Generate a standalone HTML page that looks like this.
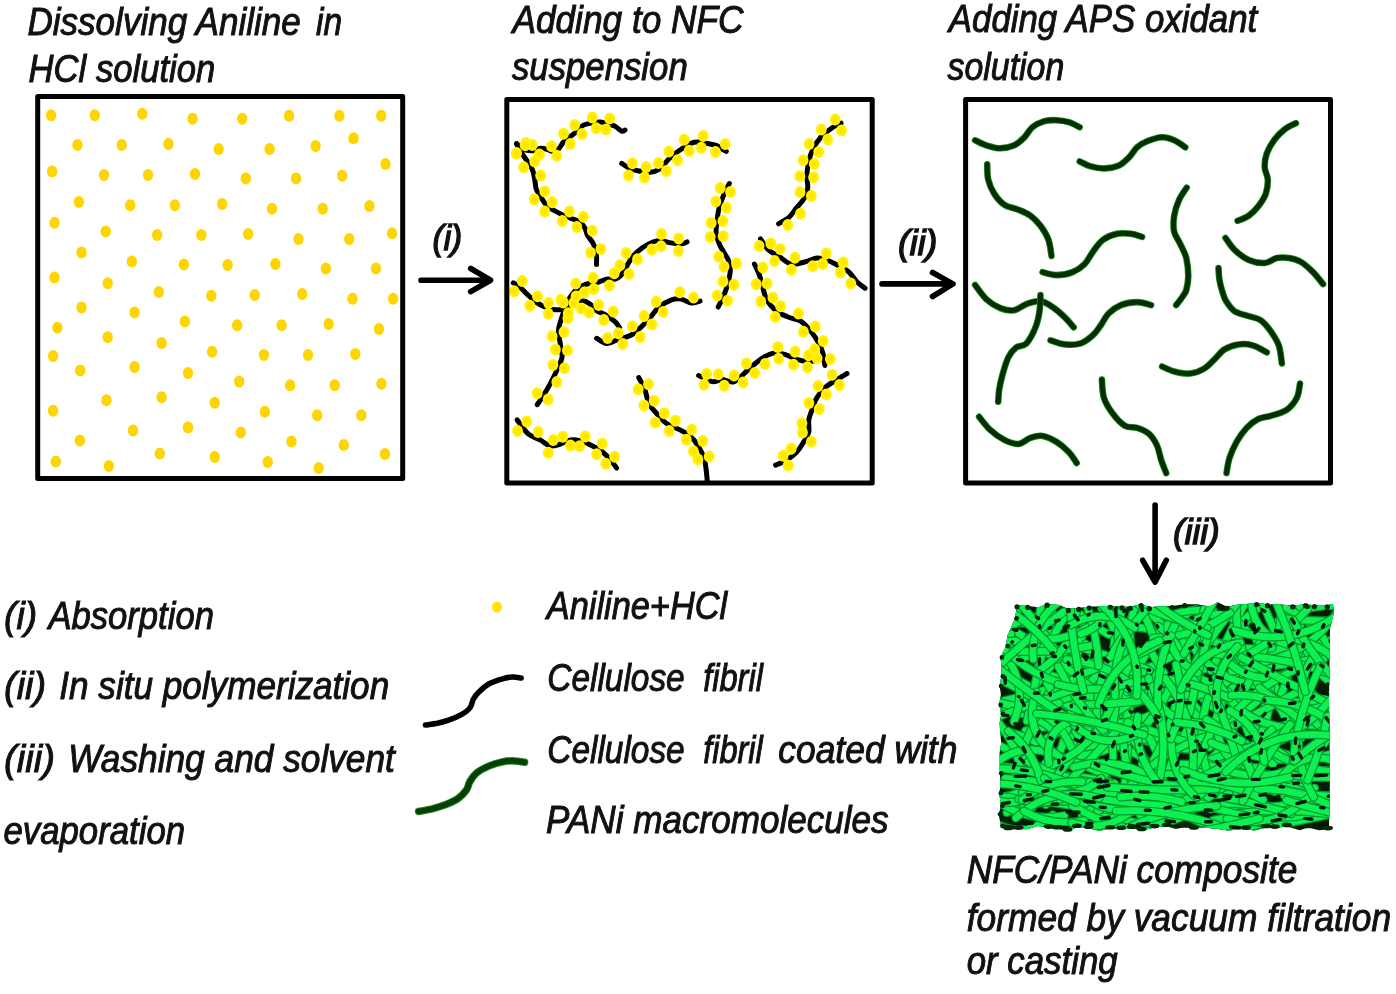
<!DOCTYPE html>
<html><head><meta charset="utf-8"><title>NFC/PANi composite preparation</title><style>
html,body{margin:0;padding:0;background:#fff;overflow:hidden;}
svg{display:block;filter:blur(0.5px);}
text{font-family:"Liberation Sans",sans-serif;font-style:italic;fill:#111;stroke:#111;}
.t{font-size:38.5px;stroke-width:1.0px;}
.lb{font-size:34.5px;stroke-width:1.4px;}
</style></head><body>
<svg width="1396" height="994" viewBox="0 0 1396 994">
<defs>
<radialGradient id="yg" cx="0.5" cy="0.5" r="0.5"><stop offset="0" stop-color="#FFDC00"/><stop offset="1" stop-color="#FFF800"/></radialGradient>
<clipPath id="c1"><rect x="40" y="99" width="361" height="378"/></clipPath>
<clipPath id="c2"><rect x="509" y="102" width="361" height="379"/></clipPath>
<clipPath id="c3"><rect x="968" y="102" width="361" height="379"/></clipPath>
</defs>

<g clip-path="url(#c1)" fill="#FFD500">
<ellipse cx="51.1" cy="115.2" rx="5.2" ry="6.0"/>
<ellipse cx="94.8" cy="115.2" rx="5.2" ry="6.0"/>
<ellipse cx="142.3" cy="113.7" rx="5.2" ry="6.0"/>
<ellipse cx="192.6" cy="118.8" rx="5.2" ry="6.0"/>
<ellipse cx="77.5" cy="144.9" rx="5.2" ry="6.0"/>
<ellipse cx="121.7" cy="144.9" rx="5.2" ry="6.0"/>
<ellipse cx="168.4" cy="143.9" rx="5.2" ry="6.0"/>
<ellipse cx="218.7" cy="149" rx="5.2" ry="6.0"/>
<ellipse cx="52.1" cy="171.5" rx="5.2" ry="6.0"/>
<ellipse cx="104" cy="175.1" rx="5.2" ry="6.0"/>
<ellipse cx="148.1" cy="175.1" rx="5.2" ry="6.0"/>
<ellipse cx="195" cy="174.1" rx="5.2" ry="6.0"/>
<ellipse cx="78.9" cy="201.9" rx="5.2" ry="6.0"/>
<ellipse cx="130.2" cy="205.3" rx="5.2" ry="6.0"/>
<ellipse cx="174.9" cy="205.3" rx="5.2" ry="6.0"/>
<ellipse cx="222.2" cy="203.9" rx="5.2" ry="6.0"/>
<ellipse cx="54.5" cy="222.8" rx="5.2" ry="6.0"/>
<ellipse cx="105.7" cy="231.4" rx="5.2" ry="6.0"/>
<ellipse cx="157.2" cy="234.9" rx="5.2" ry="6.0"/>
<ellipse cx="201.4" cy="234.9" rx="5.2" ry="6.0"/>
<ellipse cx="81.5" cy="252.6" rx="5.2" ry="6.0"/>
<ellipse cx="131.8" cy="261.6" rx="5.2" ry="6.0"/>
<ellipse cx="183.9" cy="264.6" rx="5.2" ry="6.0"/>
<ellipse cx="227.6" cy="265" rx="5.2" ry="6.0"/>
<ellipse cx="54.5" cy="277.5" rx="5.2" ry="6.0"/>
<ellipse cx="107.7" cy="283.2" rx="5.2" ry="6.0"/>
<ellipse cx="242.2" cy="118.8" rx="5.2" ry="6.0"/>
<ellipse cx="289.1" cy="115.8" rx="5.2" ry="6.0"/>
<ellipse cx="339.4" cy="115.8" rx="5.2" ry="6.0"/>
<ellipse cx="381.2" cy="115.8" rx="5.2" ry="6.0"/>
<ellipse cx="269.6" cy="149" rx="5.2" ry="6.0"/>
<ellipse cx="315.6" cy="145.9" rx="5.2" ry="6.0"/>
<ellipse cx="353.5" cy="138.3" rx="5.2" ry="6.0"/>
<ellipse cx="385.5" cy="164" rx="5.2" ry="6.0"/>
<ellipse cx="245.8" cy="178.5" rx="5.2" ry="6.0"/>
<ellipse cx="296.1" cy="178.5" rx="5.2" ry="6.0"/>
<ellipse cx="342.2" cy="175.7" rx="5.2" ry="6.0"/>
<ellipse cx="272" cy="208.7" rx="5.2" ry="6.0"/>
<ellipse cx="322.7" cy="208.7" rx="5.2" ry="6.0"/>
<ellipse cx="369.4" cy="205.9" rx="5.2" ry="6.0"/>
<ellipse cx="248.2" cy="233.9" rx="5.2" ry="6.0"/>
<ellipse cx="298.5" cy="238.9" rx="5.2" ry="6.0"/>
<ellipse cx="349.2" cy="238.9" rx="5.2" ry="6.0"/>
<ellipse cx="392.1" cy="233.3" rx="5.2" ry="6.0"/>
<ellipse cx="275.4" cy="264" rx="5.2" ry="6.0"/>
<ellipse cx="325.9" cy="268.5" rx="5.2" ry="6.0"/>
<ellipse cx="376" cy="268.5" rx="5.2" ry="6.0"/>
<ellipse cx="158.8" cy="292.1" rx="5.2" ry="6.0"/>
<ellipse cx="211.3" cy="295.7" rx="5.2" ry="6.0"/>
<ellipse cx="81.5" cy="307.6" rx="5.2" ry="6.0"/>
<ellipse cx="134.6" cy="312.6" rx="5.2" ry="6.0"/>
<ellipse cx="184.9" cy="321.6" rx="5.2" ry="6.0"/>
<ellipse cx="57.4" cy="327.7" rx="5.2" ry="6.0"/>
<ellipse cx="107.7" cy="337.3" rx="5.2" ry="6.0"/>
<ellipse cx="161.6" cy="343" rx="5.2" ry="6.0"/>
<ellipse cx="212.1" cy="351.8" rx="5.2" ry="6.0"/>
<ellipse cx="53.1" cy="356.1" rx="5.2" ry="6.0"/>
<ellipse cx="80.3" cy="370.5" rx="5.2" ry="6.0"/>
<ellipse cx="134.6" cy="367.1" rx="5.2" ry="6.0"/>
<ellipse cx="188" cy="373" rx="5.2" ry="6.0"/>
<ellipse cx="106.5" cy="400.3" rx="5.2" ry="6.0"/>
<ellipse cx="161.6" cy="397.3" rx="5.2" ry="6.0"/>
<ellipse cx="214.7" cy="402.7" rx="5.2" ry="6.0"/>
<ellipse cx="53.1" cy="410.8" rx="5.2" ry="6.0"/>
<ellipse cx="133" cy="430.5" rx="5.2" ry="6.0"/>
<ellipse cx="188" cy="427.5" rx="5.2" ry="6.0"/>
<ellipse cx="79.9" cy="440.6" rx="5.2" ry="6.0"/>
<ellipse cx="55.8" cy="461.5" rx="5.2" ry="6.0"/>
<ellipse cx="108.9" cy="466.1" rx="5.2" ry="6.0"/>
<ellipse cx="159.8" cy="453.4" rx="5.2" ry="6.0"/>
<ellipse cx="214.7" cy="457.1" rx="5.2" ry="6.0"/>
<ellipse cx="254.7" cy="295.1" rx="5.2" ry="6.0"/>
<ellipse cx="302.2" cy="294.1" rx="5.2" ry="6.0"/>
<ellipse cx="352.5" cy="298.7" rx="5.2" ry="6.0"/>
<ellipse cx="393.1" cy="298.7" rx="5.2" ry="6.0"/>
<ellipse cx="237.2" cy="325.3" rx="5.2" ry="6.0"/>
<ellipse cx="281.6" cy="325.3" rx="5.2" ry="6.0"/>
<ellipse cx="328.7" cy="323.9" rx="5.2" ry="6.0"/>
<ellipse cx="379" cy="328.9" rx="5.2" ry="6.0"/>
<ellipse cx="263.9" cy="355" rx="5.2" ry="6.0"/>
<ellipse cx="308" cy="355" rx="5.2" ry="6.0"/>
<ellipse cx="355.3" cy="354" rx="5.2" ry="6.0"/>
<ellipse cx="239.2" cy="381.6" rx="5.2" ry="6.0"/>
<ellipse cx="290.1" cy="385.2" rx="5.2" ry="6.0"/>
<ellipse cx="334.7" cy="385.2" rx="5.2" ry="6.0"/>
<ellipse cx="381.4" cy="383.8" rx="5.2" ry="6.0"/>
<ellipse cx="264.9" cy="411.8" rx="5.2" ry="6.0"/>
<ellipse cx="317.2" cy="415.2" rx="5.2" ry="6.0"/>
<ellipse cx="361.3" cy="415.2" rx="5.2" ry="6.0"/>
<ellipse cx="240.8" cy="432.5" rx="5.2" ry="6.0"/>
<ellipse cx="291.5" cy="441.6" rx="5.2" ry="6.0"/>
<ellipse cx="343.8" cy="445" rx="5.2" ry="6.0"/>
<ellipse cx="267.7" cy="462.1" rx="5.2" ry="6.0"/>
<ellipse cx="318.7" cy="468.1" rx="5.2" ry="6.0"/>
<ellipse cx="385" cy="454" rx="5.2" ry="6.0"/>
</g>
<g clip-path="url(#c2)">
<g fill="none" stroke="#000" stroke-width="5" stroke-linecap="round" stroke-linejoin="round">
<path d="M516.6 143.7C517.7 144.6 520.3 148.1 523.1 149.3C525.9 150.5 530.4 151.0 533.2 150.8C536.1 150.6 537.9 148.4 540.2 148.2C542.5 147.9 545.2 148.8 547.2 149.3C549.2 149.8 550.4 151.3 552.3 151.3C554.1 151.3 556.5 150.8 558.3 149.3C560.1 147.8 561.4 144.2 563.3 142.2C565.1 140.2 567.0 139.0 569.4 137.2C571.8 135.3 575.1 133.1 577.4 131.1C579.7 129.1 581.0 126.4 583.4 125.1C585.8 123.8 588.6 123.6 591.5 123.1C594.4 122.6 597.8 121.9 600.5 122.1C603.2 122.3 605.2 123.4 607.6 124.1C610.0 124.8 612.2 124.9 614.6 126.1C617.0 127.3 620.0 130.4 621.7 131.1C623.4 131.8 624.5 130.2 625.0 130.0"/>
<path d="M516.6 143.7C517.2 144.8 518.6 147.6 520.0 150.0C521.4 152.4 523.3 155.5 525.0 158.0C526.7 160.5 528.6 162.7 530.0 165.0C531.4 167.3 532.4 169.3 533.2 172.0C534.0 174.7 534.5 178.2 535.0 181.0C535.5 183.8 535.3 186.5 536.2 189.0C537.1 191.5 538.4 193.2 540.2 196.1C542.0 198.9 544.7 203.6 547.2 206.1C549.7 208.6 552.6 209.6 555.3 211.1C558.0 212.6 560.8 214.0 563.3 215.2C565.8 216.4 567.9 217.2 570.4 218.2C572.9 219.2 576.0 219.7 578.4 221.2C580.8 222.7 583.0 224.8 584.5 227.2C586.0 229.5 586.2 232.8 587.5 235.3C588.8 237.8 591.2 240.0 592.5 242.3C593.8 244.7 594.8 247.1 595.5 249.4C596.2 251.8 596.3 253.9 596.5 256.4C596.7 258.9 596.5 263.1 596.5 264.5"/>
<path d="M621.7 163.4C622.9 164.2 626.5 166.8 629.0 168.0C631.5 169.2 633.5 169.8 636.8 170.5C640.1 171.2 645.2 172.7 648.9 172.5C652.6 172.3 656.0 171.3 659.0 169.4C662.0 167.5 664.7 163.4 667.0 161.0C669.3 158.6 670.6 156.9 673.0 155.0C675.4 153.1 678.6 151.0 681.1 149.3C683.6 147.6 685.8 146.2 688.0 145.0C690.2 143.8 692.1 142.8 694.1 142.3C696.1 141.8 698.0 141.8 700.0 142.0C702.0 142.2 703.5 142.8 706.2 143.3C708.9 143.9 713.6 144.4 716.2 145.3C718.8 146.2 720.3 148.0 722.0 149.0C723.7 150.0 725.6 150.9 726.3 151.3"/>
<path d="M687.1 241.9C686.1 242.2 683.7 243.8 681.0 244.0C678.3 244.2 674.3 243.5 671.0 242.9C667.7 242.3 664.0 240.7 661.0 240.5C658.0 240.3 655.9 240.8 652.9 242.0C649.9 243.2 646.0 245.1 642.7 247.5C639.4 249.9 635.5 253.1 632.9 256.2C630.2 259.3 628.8 262.7 626.8 265.9C624.8 269.1 622.8 273.4 620.8 275.6C618.8 277.8 617.1 278.6 614.7 279.2C612.3 279.8 609.3 278.6 606.3 279.2C603.3 279.8 599.8 282.0 596.6 282.8C593.4 283.6 590.2 283.0 587.0 284.0C583.8 285.0 580.1 286.6 577.3 288.8C574.5 291.0 572.0 294.3 570.0 297.3C568.0 300.3 567.0 303.2 565.5 307.0C564.0 310.8 562.2 315.9 561.0 320.0C559.8 324.1 558.5 327.1 558.4 331.3C558.3 335.5 559.9 340.6 560.5 345.0C561.1 349.4 562.7 353.0 562.0 357.4C561.3 361.8 558.2 367.1 556.3 371.5C554.3 375.9 552.5 379.6 550.3 383.6C548.1 387.6 545.5 392.2 543.3 395.7C541.1 399.2 538.2 403.2 537.2 404.7"/>
<path d="M778.6 223.8C780.3 222.8 785.7 220.4 788.7 217.7C791.7 215.0 794.0 211.0 796.7 207.7C799.4 204.3 802.9 200.9 804.7 197.6C806.6 194.2 807.4 191.3 807.8 187.6C808.1 183.9 806.6 179.9 806.8 175.5C807.0 171.1 807.8 165.8 808.8 161.4C809.8 157.0 810.8 153.3 812.8 149.3C814.8 145.3 817.4 141.0 820.8 137.3C824.1 133.6 829.5 129.6 832.9 127.2C836.3 124.8 839.6 123.9 841.0 123.2"/>
<path d="M729.3 183.5C728.5 185.2 726.0 189.6 724.3 193.6C722.6 197.6 720.4 203.3 719.2 207.7C718.0 212.0 717.7 215.3 717.2 219.7C716.7 224.0 715.7 229.4 716.2 233.8C716.7 238.2 718.2 241.5 720.2 245.9C722.2 250.3 726.6 256.0 728.3 260.0C730.0 264.0 730.3 266.3 730.3 270.0C730.3 273.7 729.3 277.9 728.3 282.1C727.2 286.3 725.7 290.8 724.0 295.0C722.3 299.2 719.2 305.1 718.2 307.1"/>
<path d="M760.5 238.9C761.8 240.7 765.5 247.1 768.5 249.9C771.5 252.8 774.9 253.7 778.6 256.0C782.3 258.4 786.4 263.0 790.7 264.0C795.1 265.0 800.4 263.0 804.7 262.0C809.1 261.0 813.1 258.3 816.8 258.0C820.5 257.7 823.2 258.7 826.9 260.0C830.6 261.3 835.3 264.0 839.0 266.0C842.7 268.0 846.0 269.4 849.0 272.1C852.0 274.8 854.4 279.4 857.1 282.1C859.8 284.8 863.8 287.2 865.1 288.2"/>
<path d="M754.4 264.0C755.2 265.7 757.7 270.7 759.0 274.0C760.3 277.3 760.8 279.8 762.0 284.0C763.2 288.2 764.1 294.6 766.5 299.1C768.9 303.6 772.9 308.2 776.6 311.2C780.3 314.2 784.7 315.5 788.7 317.2C792.7 318.9 797.0 318.8 800.7 321.2C804.4 323.6 807.8 327.6 810.8 331.3C813.8 335.0 816.8 339.7 818.8 343.4C820.8 347.1 821.9 349.7 822.9 353.4C823.9 357.1 824.6 363.5 824.9 365.5"/>
<path d="M513.3 282.8C514.5 283.6 518.1 285.6 520.5 287.6C522.9 289.6 525.2 292.5 527.8 294.9C530.4 297.3 533.4 300.1 536.2 302.1C539.0 304.1 541.9 305.8 544.7 307.0C547.5 308.2 550.1 309.0 553.1 309.4C556.1 309.8 559.6 310.2 562.8 309.4C566.0 308.6 569.1 305.9 572.5 304.5C575.9 303.1 580.3 300.9 583.3 300.9C586.3 300.9 588.4 302.9 590.6 304.5C592.8 306.1 594.0 308.8 596.6 310.6C599.2 312.4 603.3 313.6 606.3 315.4C609.3 317.2 612.5 319.4 614.7 321.4C616.9 323.4 618.8 326.5 619.6 327.5"/>
<path d="M596.6 338.3C598.3 339.1 602.9 343.2 606.6 343.4C610.3 343.6 614.7 340.6 618.7 339.3C622.7 338.0 627.1 337.3 630.8 335.3C634.5 333.3 637.8 330.0 640.8 327.3C643.8 324.6 645.9 322.6 648.9 319.2C651.9 315.8 655.3 310.3 659.0 307.1C662.7 303.9 667.3 301.4 671.0 300.1C674.7 298.8 677.8 298.6 681.1 299.1C684.5 299.6 687.9 302.8 691.1 303.1C694.3 303.4 698.6 301.4 700.1 301.1"/>
<path d="M517.1 419.8C519.0 422.1 524.4 430.5 528.2 433.9C532.1 437.2 536.5 437.9 540.2 439.9C543.9 441.9 546.9 445.3 550.3 446.0C553.7 446.7 557.0 445.0 560.4 444.0C563.8 443.0 567.0 440.4 570.4 439.9C573.8 439.4 576.8 439.9 580.5 440.9C584.2 441.9 588.9 444.1 592.6 446.0C596.3 447.9 599.6 449.6 602.6 452.0C605.6 454.4 608.4 457.4 610.7 460.1C613.1 462.8 615.7 466.8 616.7 468.1"/>
<path d="M638.8 377.6C639.8 379.6 643.2 385.2 644.9 389.6C646.6 394.0 646.9 399.7 648.9 403.7C650.9 407.7 653.9 410.4 656.9 413.8C659.9 417.2 663.1 421.1 667.0 423.8C670.9 426.5 676.1 427.9 680.0 429.9C683.9 431.9 687.1 433.2 690.1 435.9C693.1 438.6 695.8 442.3 698.1 446.0C700.4 449.7 702.8 454.0 704.1 458.0C705.5 462.0 705.7 466.4 706.2 470.1C706.7 473.8 707.0 478.5 707.2 480.2"/>
<path d="M698.6 375.5C700.9 376.5 708.2 380.9 712.2 381.6C716.2 382.3 718.6 379.6 722.3 379.6C726.0 379.6 729.9 383.3 734.3 381.6C738.6 379.9 744.0 373.2 748.4 369.5C752.8 365.8 756.5 362.1 760.5 359.4C764.5 356.7 768.6 354.2 772.6 353.4C776.6 352.6 780.6 353.4 784.6 354.4C788.6 355.4 792.7 358.2 796.7 359.4C800.7 360.6 804.8 361.5 808.8 361.5C812.8 361.5 818.8 359.8 820.8 359.4"/>
<path d="M775.6 465.1C777.4 464.3 783.1 462.3 786.6 460.1C790.1 457.9 793.9 455.0 796.7 452.0C799.6 449.0 801.7 445.2 803.7 441.9C805.7 438.5 807.9 435.6 808.8 431.9C809.6 428.2 808.1 423.8 808.8 419.8C809.5 415.8 811.5 411.4 812.8 407.7C814.1 404.0 814.8 401.0 816.8 397.7C818.8 394.4 821.5 390.6 824.9 387.6C828.2 384.6 833.2 382.0 836.9 379.6C840.6 377.2 845.3 374.5 847.0 373.5"/>
</g><g fill="url(#yg)">
<ellipse cx="516.5" cy="153.1" rx="5.4" ry="6.0"/>
<ellipse cx="525.9" cy="143.1" rx="5.4" ry="6.0"/>
<ellipse cx="539.4" cy="154.4" rx="5.4" ry="6.0"/>
<ellipse cx="532.3" cy="145.0" rx="5.4" ry="6.0"/>
<ellipse cx="556.9" cy="155.7" rx="5.4" ry="6.0"/>
<ellipse cx="551.5" cy="146.3" rx="5.4" ry="6.0"/>
<ellipse cx="570.3" cy="144.1" rx="5.4" ry="6.0"/>
<ellipse cx="563.5" cy="133.7" rx="5.4" ry="6.0"/>
<ellipse cx="582.0" cy="134.0" rx="5.4" ry="6.0"/>
<ellipse cx="574.6" cy="125.1" rx="5.4" ry="6.0"/>
<ellipse cx="596.2" cy="128.3" rx="5.4" ry="6.0"/>
<ellipse cx="592.3" cy="117.4" rx="5.4" ry="6.0"/>
<ellipse cx="606.0" cy="129.5" rx="5.4" ry="6.0"/>
<ellipse cx="609.7" cy="118.6" rx="5.4" ry="6.0"/>
<ellipse cx="525.2" cy="145.2" rx="5.4" ry="6.0"/>
<ellipse cx="516.2" cy="153.8" rx="5.4" ry="6.0"/>
<ellipse cx="534.7" cy="161.6" rx="5.4" ry="6.0"/>
<ellipse cx="523.7" cy="167.3" rx="5.4" ry="6.0"/>
<ellipse cx="540.6" cy="175.5" rx="5.4" ry="6.0"/>
<ellipse cx="544.8" cy="191.6" rx="5.4" ry="6.0"/>
<ellipse cx="534.2" cy="199.3" rx="5.4" ry="6.0"/>
<ellipse cx="552.2" cy="202.2" rx="5.4" ry="6.0"/>
<ellipse cx="544.7" cy="211.4" rx="5.4" ry="6.0"/>
<ellipse cx="569.4" cy="211.4" rx="5.4" ry="6.0"/>
<ellipse cx="562.3" cy="220.9" rx="5.4" ry="6.0"/>
<ellipse cx="583.3" cy="216.8" rx="5.4" ry="6.0"/>
<ellipse cx="576.8" cy="227.1" rx="5.4" ry="6.0"/>
<ellipse cx="592.3" cy="230.7" rx="5.4" ry="6.0"/>
<ellipse cx="600.9" cy="249.1" rx="5.4" ry="6.0"/>
<ellipse cx="590.5" cy="252.7" rx="5.4" ry="6.0"/>
<ellipse cx="628.6" cy="175.4" rx="5.4" ry="6.0"/>
<ellipse cx="632.4" cy="163.2" rx="5.4" ry="6.0"/>
<ellipse cx="644.6" cy="177.6" rx="5.4" ry="6.0"/>
<ellipse cx="646.1" cy="167.1" rx="5.4" ry="6.0"/>
<ellipse cx="666.3" cy="171.0" rx="5.4" ry="6.0"/>
<ellipse cx="658.4" cy="163.1" rx="5.4" ry="6.0"/>
<ellipse cx="677.5" cy="160.2" rx="5.4" ry="6.0"/>
<ellipse cx="668.9" cy="151.6" rx="5.4" ry="6.0"/>
<ellipse cx="689.2" cy="150.8" rx="5.4" ry="6.0"/>
<ellipse cx="684.2" cy="139.7" rx="5.4" ry="6.0"/>
<ellipse cx="701.3" cy="147.7" rx="5.4" ry="6.0"/>
<ellipse cx="703.2" cy="136.0" rx="5.4" ry="6.0"/>
<ellipse cx="715.5" cy="152.0" rx="5.4" ry="6.0"/>
<ellipse cx="725.2" cy="143.9" rx="5.4" ry="6.0"/>
<ellipse cx="678.7" cy="238.4" rx="5.4" ry="6.0"/>
<ellipse cx="678.4" cy="251.0" rx="5.4" ry="6.0"/>
<ellipse cx="661.5" cy="234.0" rx="5.4" ry="6.0"/>
<ellipse cx="661.1" cy="246.2" rx="5.4" ry="6.0"/>
<ellipse cx="651.8" cy="249.5" rx="5.4" ry="6.0"/>
<ellipse cx="626.3" cy="253.1" rx="5.4" ry="6.0"/>
<ellipse cx="637.5" cy="259.2" rx="5.4" ry="6.0"/>
<ellipse cx="619.9" cy="265.3" rx="5.4" ry="6.0"/>
<ellipse cx="629.0" cy="274.0" rx="5.4" ry="6.0"/>
<ellipse cx="614.2" cy="273.2" rx="5.4" ry="6.0"/>
<ellipse cx="609.4" cy="285.6" rx="5.4" ry="6.0"/>
<ellipse cx="593.0" cy="277.7" rx="5.4" ry="6.0"/>
<ellipse cx="593.8" cy="289.1" rx="5.4" ry="6.0"/>
<ellipse cx="575.7" cy="283.4" rx="5.4" ry="6.0"/>
<ellipse cx="584.5" cy="292.2" rx="5.4" ry="6.0"/>
<ellipse cx="560.9" cy="299.7" rx="5.4" ry="6.0"/>
<ellipse cx="573.8" cy="303.0" rx="5.4" ry="6.0"/>
<ellipse cx="567.9" cy="318.2" rx="5.4" ry="6.0"/>
<ellipse cx="552.1" cy="336.3" rx="5.4" ry="6.0"/>
<ellipse cx="564.0" cy="332.0" rx="5.4" ry="6.0"/>
<ellipse cx="555.4" cy="349.6" rx="5.4" ry="6.0"/>
<ellipse cx="567.4" cy="350.3" rx="5.4" ry="6.0"/>
<ellipse cx="552.9" cy="365.1" rx="5.4" ry="6.0"/>
<ellipse cx="564.5" cy="368.3" rx="5.4" ry="6.0"/>
<ellipse cx="556.8" cy="382.0" rx="5.4" ry="6.0"/>
<ellipse cx="537.2" cy="393.3" rx="5.4" ry="6.0"/>
<ellipse cx="548.1" cy="399.4" rx="5.4" ry="6.0"/>
<ellipse cx="787.7" cy="225.0" rx="5.4" ry="6.0"/>
<ellipse cx="800.5" cy="213.8" rx="5.4" ry="6.0"/>
<ellipse cx="811.3" cy="196.1" rx="5.4" ry="6.0"/>
<ellipse cx="800.0" cy="192.2" rx="5.4" ry="6.0"/>
<ellipse cx="813.6" cy="177.3" rx="5.4" ry="6.0"/>
<ellipse cx="799.9" cy="176.3" rx="5.4" ry="6.0"/>
<ellipse cx="814.2" cy="163.9" rx="5.4" ry="6.0"/>
<ellipse cx="803.1" cy="160.2" rx="5.4" ry="6.0"/>
<ellipse cx="818.7" cy="152.1" rx="5.4" ry="6.0"/>
<ellipse cx="809.1" cy="144.0" rx="5.4" ry="6.0"/>
<ellipse cx="827.7" cy="139.5" rx="5.4" ry="6.0"/>
<ellipse cx="821.3" cy="129.4" rx="5.4" ry="6.0"/>
<ellipse cx="841.5" cy="130.5" rx="5.4" ry="6.0"/>
<ellipse cx="835.2" cy="119.4" rx="5.4" ry="6.0"/>
<ellipse cx="730.5" cy="192.1" rx="5.4" ry="6.0"/>
<ellipse cx="720.2" cy="188.1" rx="5.4" ry="6.0"/>
<ellipse cx="726.4" cy="207.8" rx="5.4" ry="6.0"/>
<ellipse cx="715.8" cy="201.6" rx="5.4" ry="6.0"/>
<ellipse cx="722.9" cy="221.0" rx="5.4" ry="6.0"/>
<ellipse cx="711.2" cy="222.9" rx="5.4" ry="6.0"/>
<ellipse cx="723.2" cy="236.2" rx="5.4" ry="6.0"/>
<ellipse cx="710.2" cy="237.1" rx="5.4" ry="6.0"/>
<ellipse cx="718.8" cy="256.7" rx="5.4" ry="6.0"/>
<ellipse cx="736.5" cy="263.5" rx="5.4" ry="6.0"/>
<ellipse cx="724.0" cy="266.4" rx="5.4" ry="6.0"/>
<ellipse cx="733.9" cy="284.8" rx="5.4" ry="6.0"/>
<ellipse cx="723.0" cy="281.5" rx="5.4" ry="6.0"/>
<ellipse cx="727.6" cy="300.7" rx="5.4" ry="6.0"/>
<ellipse cx="717.2" cy="295.6" rx="5.4" ry="6.0"/>
<ellipse cx="759.1" cy="246.0" rx="5.4" ry="6.0"/>
<ellipse cx="770.9" cy="243.6" rx="5.4" ry="6.0"/>
<ellipse cx="774.5" cy="260.9" rx="5.4" ry="6.0"/>
<ellipse cx="780.2" cy="249.1" rx="5.4" ry="6.0"/>
<ellipse cx="791.4" cy="269.7" rx="5.4" ry="6.0"/>
<ellipse cx="794.9" cy="257.8" rx="5.4" ry="6.0"/>
<ellipse cx="812.7" cy="266.3" rx="5.4" ry="6.0"/>
<ellipse cx="822.8" cy="264.0" rx="5.4" ry="6.0"/>
<ellipse cx="826.2" cy="253.4" rx="5.4" ry="6.0"/>
<ellipse cx="840.3" cy="272.4" rx="5.4" ry="6.0"/>
<ellipse cx="843.1" cy="262.5" rx="5.4" ry="6.0"/>
<ellipse cx="850.8" cy="283.5" rx="5.4" ry="6.0"/>
<ellipse cx="762.8" cy="267.6" rx="5.4" ry="6.0"/>
<ellipse cx="756.3" cy="284.2" rx="5.4" ry="6.0"/>
<ellipse cx="767.1" cy="283.4" rx="5.4" ry="6.0"/>
<ellipse cx="760.7" cy="301.4" rx="5.4" ry="6.0"/>
<ellipse cx="772.9" cy="297.6" rx="5.4" ry="6.0"/>
<ellipse cx="775.2" cy="317.1" rx="5.4" ry="6.0"/>
<ellipse cx="780.6" cy="306.3" rx="5.4" ry="6.0"/>
<ellipse cx="798.4" cy="313.4" rx="5.4" ry="6.0"/>
<ellipse cx="803.4" cy="331.8" rx="5.4" ry="6.0"/>
<ellipse cx="815.3" cy="326.4" rx="5.4" ry="6.0"/>
<ellipse cx="814.7" cy="349.2" rx="5.4" ry="6.0"/>
<ellipse cx="823.2" cy="340.9" rx="5.4" ry="6.0"/>
<ellipse cx="817.1" cy="358.2" rx="5.4" ry="6.0"/>
<ellipse cx="830.3" cy="358.9" rx="5.4" ry="6.0"/>
<ellipse cx="514.0" cy="291.3" rx="5.4" ry="6.0"/>
<ellipse cx="522.1" cy="281.1" rx="5.4" ry="6.0"/>
<ellipse cx="529.8" cy="305.7" rx="5.4" ry="6.0"/>
<ellipse cx="537.5" cy="296.2" rx="5.4" ry="6.0"/>
<ellipse cx="548.2" cy="313.7" rx="5.4" ry="6.0"/>
<ellipse cx="548.6" cy="303.1" rx="5.4" ry="6.0"/>
<ellipse cx="568.3" cy="313.3" rx="5.4" ry="6.0"/>
<ellipse cx="563.3" cy="302.4" rx="5.4" ry="6.0"/>
<ellipse cx="581.4" cy="308.4" rx="5.4" ry="6.0"/>
<ellipse cx="576.0" cy="296.5" rx="5.4" ry="6.0"/>
<ellipse cx="589.2" cy="312.6" rx="5.4" ry="6.0"/>
<ellipse cx="598.7" cy="304.9" rx="5.4" ry="6.0"/>
<ellipse cx="603.8" cy="319.9" rx="5.4" ry="6.0"/>
<ellipse cx="613.2" cy="311.4" rx="5.4" ry="6.0"/>
<ellipse cx="607.6" cy="338.1" rx="5.4" ry="6.0"/>
<ellipse cx="622.7" cy="343.9" rx="5.4" ry="6.0"/>
<ellipse cx="618.2" cy="333.2" rx="5.4" ry="6.0"/>
<ellipse cx="640.2" cy="337.1" rx="5.4" ry="6.0"/>
<ellipse cx="632.3" cy="326.2" rx="5.4" ry="6.0"/>
<ellipse cx="651.8" cy="324.4" rx="5.4" ry="6.0"/>
<ellipse cx="644.1" cy="315.9" rx="5.4" ry="6.0"/>
<ellipse cx="663.1" cy="312.0" rx="5.4" ry="6.0"/>
<ellipse cx="656.2" cy="301.8" rx="5.4" ry="6.0"/>
<ellipse cx="679.8" cy="292.2" rx="5.4" ry="6.0"/>
<ellipse cx="693.5" cy="297.6" rx="5.4" ry="6.0"/>
<ellipse cx="526.8" cy="421.5" rx="5.4" ry="6.0"/>
<ellipse cx="517.5" cy="431.0" rx="5.4" ry="6.0"/>
<ellipse cx="538.1" cy="432.0" rx="5.4" ry="6.0"/>
<ellipse cx="553.2" cy="440.0" rx="5.4" ry="6.0"/>
<ellipse cx="548.3" cy="452.7" rx="5.4" ry="6.0"/>
<ellipse cx="562.8" cy="436.8" rx="5.4" ry="6.0"/>
<ellipse cx="570.5" cy="445.4" rx="5.4" ry="6.0"/>
<ellipse cx="585.3" cy="436.4" rx="5.4" ry="6.0"/>
<ellipse cx="579.6" cy="446.2" rx="5.4" ry="6.0"/>
<ellipse cx="602.2" cy="443.5" rx="5.4" ry="6.0"/>
<ellipse cx="596.6" cy="454.3" rx="5.4" ry="6.0"/>
<ellipse cx="614.6" cy="456.7" rx="5.4" ry="6.0"/>
<ellipse cx="605.7" cy="463.7" rx="5.4" ry="6.0"/>
<ellipse cx="648.5" cy="384.2" rx="5.4" ry="6.0"/>
<ellipse cx="638.2" cy="389.3" rx="5.4" ry="6.0"/>
<ellipse cx="654.2" cy="400.8" rx="5.4" ry="6.0"/>
<ellipse cx="643.9" cy="405.4" rx="5.4" ry="6.0"/>
<ellipse cx="664.3" cy="413.3" rx="5.4" ry="6.0"/>
<ellipse cx="655.3" cy="422.4" rx="5.4" ry="6.0"/>
<ellipse cx="675.4" cy="420.8" rx="5.4" ry="6.0"/>
<ellipse cx="669.2" cy="430.9" rx="5.4" ry="6.0"/>
<ellipse cx="691.7" cy="429.6" rx="5.4" ry="6.0"/>
<ellipse cx="686.3" cy="439.7" rx="5.4" ry="6.0"/>
<ellipse cx="702.8" cy="441.1" rx="5.4" ry="6.0"/>
<ellipse cx="693.4" cy="451.3" rx="5.4" ry="6.0"/>
<ellipse cx="709.2" cy="456.4" rx="5.4" ry="6.0"/>
<ellipse cx="697.9" cy="459.4" rx="5.4" ry="6.0"/>
<ellipse cx="706.7" cy="373.9" rx="5.4" ry="6.0"/>
<ellipse cx="704.0" cy="384.7" rx="5.4" ry="6.0"/>
<ellipse cx="718.3" cy="374.3" rx="5.4" ry="6.0"/>
<ellipse cx="724.3" cy="385.7" rx="5.4" ry="6.0"/>
<ellipse cx="734.0" cy="375.5" rx="5.4" ry="6.0"/>
<ellipse cx="743.0" cy="382.4" rx="5.4" ry="6.0"/>
<ellipse cx="746.4" cy="363.5" rx="5.4" ry="6.0"/>
<ellipse cx="754.7" cy="373.1" rx="5.4" ry="6.0"/>
<ellipse cx="765.1" cy="364.0" rx="5.4" ry="6.0"/>
<ellipse cx="777.8" cy="347.1" rx="5.4" ry="6.0"/>
<ellipse cx="778.7" cy="358.7" rx="5.4" ry="6.0"/>
<ellipse cx="795.1" cy="351.8" rx="5.4" ry="6.0"/>
<ellipse cx="793.5" cy="364.7" rx="5.4" ry="6.0"/>
<ellipse cx="808.6" cy="355.2" rx="5.4" ry="6.0"/>
<ellipse cx="807.5" cy="367.3" rx="5.4" ry="6.0"/>
<ellipse cx="788.1" cy="465.5" rx="5.4" ry="6.0"/>
<ellipse cx="783.1" cy="455.7" rx="5.4" ry="6.0"/>
<ellipse cx="791.2" cy="448.7" rx="5.4" ry="6.0"/>
<ellipse cx="811.4" cy="441.7" rx="5.4" ry="6.0"/>
<ellipse cx="802.5" cy="432.5" rx="5.4" ry="6.0"/>
<ellipse cx="801.9" cy="423.3" rx="5.4" ry="6.0"/>
<ellipse cx="819.3" cy="408.9" rx="5.4" ry="6.0"/>
<ellipse cx="808.9" cy="403.1" rx="5.4" ry="6.0"/>
<ellipse cx="826.4" cy="394.5" rx="5.4" ry="6.0"/>
<ellipse cx="818.1" cy="386.0" rx="5.4" ry="6.0"/>
<ellipse cx="839.4" cy="384.9" rx="5.4" ry="6.0"/>
<ellipse cx="832.1" cy="374.8" rx="5.4" ry="6.0"/>
</g></g>
<g clip-path="url(#c3)" fill="none" stroke-linecap="round">
<path d="M975.1 140.3C977.0 141.1 982.0 144.0 986.2 145.3C990.4 146.6 995.5 148.3 1000.2 148.3C1004.9 148.3 1010.3 147.1 1014.3 145.3C1018.3 143.5 1021.4 140.3 1024.4 137.3C1027.4 134.3 1029.1 129.9 1032.4 127.2C1035.8 124.5 1040.5 122.4 1044.5 121.2C1048.5 120.0 1052.6 120.0 1056.6 120.2C1060.6 120.4 1064.8 121.0 1068.7 122.2C1072.6 123.4 1077.9 126.4 1079.7 127.2" stroke="#1b8a1b" stroke-width="6.6"/>
<path d="M975.1 140.3C977.0 141.1 982.0 144.0 986.2 145.3C990.4 146.6 995.5 148.3 1000.2 148.3C1004.9 148.3 1010.3 147.1 1014.3 145.3C1018.3 143.5 1021.4 140.3 1024.4 137.3C1027.4 134.3 1029.1 129.9 1032.4 127.2C1035.8 124.5 1040.5 122.4 1044.5 121.2C1048.5 120.0 1052.6 120.0 1056.6 120.2C1060.6 120.4 1064.8 121.0 1068.7 122.2C1072.6 123.4 1077.9 126.4 1079.7 127.2" stroke="#052e05" stroke-width="4.9"/>
<path d="M1079.7 161.4C1081.5 162.2 1086.6 165.2 1090.8 166.4C1095.0 167.6 1100.2 168.6 1104.9 168.4C1109.6 168.2 1115.0 167.2 1119.0 165.4C1123.0 163.6 1126.0 160.4 1129.0 157.4C1132.0 154.4 1134.1 150.0 1137.1 147.3C1140.1 144.6 1142.9 143.0 1147.1 141.3C1151.3 139.6 1157.6 137.5 1162.1 137.3C1166.6 137.1 1170.3 138.6 1174.2 140.3C1178.1 142.0 1183.5 146.1 1185.3 147.3" stroke="#1b8a1b" stroke-width="6.6"/>
<path d="M1079.7 161.4C1081.5 162.2 1086.6 165.2 1090.8 166.4C1095.0 167.6 1100.2 168.6 1104.9 168.4C1109.6 168.2 1115.0 167.2 1119.0 165.4C1123.0 163.6 1126.0 160.4 1129.0 157.4C1132.0 154.4 1134.1 150.0 1137.1 147.3C1140.1 144.6 1142.9 143.0 1147.1 141.3C1151.3 139.6 1157.6 137.5 1162.1 137.3C1166.6 137.1 1170.3 138.6 1174.2 140.3C1178.1 142.0 1183.5 146.1 1185.3 147.3" stroke="#052e05" stroke-width="4.9"/>
<path d="M987.2 164.4C987.4 166.9 987.0 174.6 988.2 179.5C989.4 184.4 991.5 189.4 994.2 193.6C996.9 197.8 1000.3 202.0 1004.3 204.7C1008.3 207.4 1014.0 207.9 1018.4 209.7C1022.8 211.5 1026.7 213.0 1030.4 215.7C1034.1 218.4 1037.5 221.8 1040.5 225.8C1043.5 229.8 1046.7 234.9 1048.5 239.9C1050.3 244.9 1051.0 253.3 1051.5 256.0" stroke="#1b8a1b" stroke-width="6.6"/>
<path d="M987.2 164.4C987.4 166.9 987.0 174.6 988.2 179.5C989.4 184.4 991.5 189.4 994.2 193.6C996.9 197.8 1000.3 202.0 1004.3 204.7C1008.3 207.4 1014.0 207.9 1018.4 209.7C1022.8 211.5 1026.7 213.0 1030.4 215.7C1034.1 218.4 1037.5 221.8 1040.5 225.8C1043.5 229.8 1046.7 234.9 1048.5 239.9C1050.3 244.9 1051.0 253.3 1051.5 256.0" stroke="#052e05" stroke-width="4.9"/>
<path d="M1042.5 272.1C1044.8 272.6 1051.6 275.1 1056.6 275.1C1061.6 275.1 1068.0 274.0 1072.7 272.1C1077.4 270.2 1081.4 267.4 1084.7 264.0C1088.0 260.6 1089.8 255.9 1092.8 251.9C1095.8 247.9 1098.9 242.9 1102.9 239.9C1106.9 236.9 1112.2 234.8 1116.9 233.8C1121.6 232.8 1126.8 233.3 1131.0 233.8C1135.2 234.3 1140.2 236.4 1142.1 236.9" stroke="#1b8a1b" stroke-width="6.6"/>
<path d="M1042.5 272.1C1044.8 272.6 1051.6 275.1 1056.6 275.1C1061.6 275.1 1068.0 274.0 1072.7 272.1C1077.4 270.2 1081.4 267.4 1084.7 264.0C1088.0 260.6 1089.8 255.9 1092.8 251.9C1095.8 247.9 1098.9 242.9 1102.9 239.9C1106.9 236.9 1112.2 234.8 1116.9 233.8C1121.6 232.8 1126.8 233.3 1131.0 233.8C1135.2 234.3 1140.2 236.4 1142.1 236.9" stroke="#052e05" stroke-width="4.9"/>
<path d="M1295.9 123.2C1294.1 124.2 1288.4 126.5 1284.9 129.2C1281.4 131.9 1277.8 135.3 1274.8 139.3C1271.8 143.3 1268.5 148.7 1266.8 153.4C1265.1 158.1 1264.5 163.1 1264.7 167.4C1264.9 171.8 1267.6 175.1 1267.8 179.5C1268.0 183.9 1267.3 189.2 1265.8 193.6C1264.3 198.0 1261.5 202.0 1258.7 205.7C1255.9 209.4 1252.2 213.2 1248.7 215.7C1245.2 218.2 1239.4 220.0 1237.6 220.8" stroke="#1b8a1b" stroke-width="6.6"/>
<path d="M1295.9 123.2C1294.1 124.2 1288.4 126.5 1284.9 129.2C1281.4 131.9 1277.8 135.3 1274.8 139.3C1271.8 143.3 1268.5 148.7 1266.8 153.4C1265.1 158.1 1264.5 163.1 1264.7 167.4C1264.9 171.8 1267.6 175.1 1267.8 179.5C1268.0 183.9 1267.3 189.2 1265.8 193.6C1264.3 198.0 1261.5 202.0 1258.7 205.7C1255.9 209.4 1252.2 213.2 1248.7 215.7C1245.2 218.2 1239.4 220.0 1237.6 220.8" stroke="#052e05" stroke-width="4.9"/>
<path d="M1186.7 187.6C1185.5 189.6 1181.3 194.9 1179.2 199.6C1177.1 204.3 1175.0 210.3 1174.2 215.7C1173.4 221.1 1173.2 227.1 1174.2 231.8C1175.2 236.5 1178.2 239.5 1180.2 243.9C1182.2 248.3 1185.0 252.6 1186.3 258.0C1187.6 263.4 1188.3 270.8 1188.3 276.1C1188.3 281.4 1187.3 286.5 1186.3 290.0C1185.3 293.5 1184.0 294.5 1182.3 297.0C1180.6 299.5 1177.2 303.8 1176.2 305.1" stroke="#1b8a1b" stroke-width="6.6"/>
<path d="M1186.7 187.6C1185.5 189.6 1181.3 194.9 1179.2 199.6C1177.1 204.3 1175.0 210.3 1174.2 215.7C1173.4 221.1 1173.2 227.1 1174.2 231.8C1175.2 236.5 1178.2 239.5 1180.2 243.9C1182.2 248.3 1185.0 252.6 1186.3 258.0C1187.6 263.4 1188.3 270.8 1188.3 276.1C1188.3 281.4 1187.3 286.5 1186.3 290.0C1185.3 293.5 1184.0 294.5 1182.3 297.0C1180.6 299.5 1177.2 303.8 1176.2 305.1" stroke="#052e05" stroke-width="4.9"/>
<path d="M1225.5 237.9C1227.0 239.9 1230.7 246.2 1234.6 249.9C1238.5 253.6 1243.7 257.8 1248.7 260.0C1253.7 262.2 1260.0 263.3 1264.7 263.0C1269.4 262.7 1272.8 258.8 1276.8 258.0C1280.8 257.2 1284.9 257.3 1288.9 258.0C1292.9 258.7 1297.0 259.6 1301.0 262.0C1305.0 264.4 1309.3 268.4 1313.0 272.1C1316.7 275.8 1321.4 282.1 1323.1 284.1" stroke="#1b8a1b" stroke-width="6.6"/>
<path d="M1225.5 237.9C1227.0 239.9 1230.7 246.2 1234.6 249.9C1238.5 253.6 1243.7 257.8 1248.7 260.0C1253.7 262.2 1260.0 263.3 1264.7 263.0C1269.4 262.7 1272.8 258.8 1276.8 258.0C1280.8 257.2 1284.9 257.3 1288.9 258.0C1292.9 258.7 1297.0 259.6 1301.0 262.0C1305.0 264.4 1309.3 268.4 1313.0 272.1C1316.7 275.8 1321.4 282.1 1323.1 284.1" stroke="#052e05" stroke-width="4.9"/>
<path d="M1218.5 268.0C1218.7 270.0 1218.8 276.1 1219.5 280.1C1220.2 284.1 1221.4 288.5 1222.5 292.0C1223.6 295.5 1224.0 297.8 1226.0 301.0C1228.0 304.2 1230.8 308.7 1234.6 311.2C1238.4 313.7 1244.3 314.7 1248.7 316.2C1253.1 317.7 1257.0 317.7 1260.7 320.2C1264.4 322.7 1267.8 327.1 1270.8 331.3C1273.8 335.5 1276.9 340.0 1278.8 345.4C1280.7 350.8 1281.4 360.5 1281.9 363.5" stroke="#1b8a1b" stroke-width="6.6"/>
<path d="M1218.5 268.0C1218.7 270.0 1218.8 276.1 1219.5 280.1C1220.2 284.1 1221.4 288.5 1222.5 292.0C1223.6 295.5 1224.0 297.8 1226.0 301.0C1228.0 304.2 1230.8 308.7 1234.6 311.2C1238.4 313.7 1244.3 314.7 1248.7 316.2C1253.1 317.7 1257.0 317.7 1260.7 320.2C1264.4 322.7 1267.8 327.1 1270.8 331.3C1273.8 335.5 1276.9 340.0 1278.8 345.4C1280.7 350.8 1281.4 360.5 1281.9 363.5" stroke="#052e05" stroke-width="4.9"/>
<path d="M975.1 285.0C977.0 287.4 982.0 295.2 986.2 299.1C990.4 303.0 995.5 306.2 1000.2 308.1C1004.9 310.0 1009.9 310.9 1014.3 310.2C1018.7 309.5 1022.0 305.6 1026.4 304.1C1030.8 302.6 1036.1 300.6 1040.5 301.1C1044.9 301.6 1048.6 304.4 1052.6 307.1C1056.6 309.8 1061.1 313.8 1064.6 317.2C1068.1 320.6 1072.2 325.6 1073.7 327.3" stroke="#1b8a1b" stroke-width="6.6"/>
<path d="M975.1 285.0C977.0 287.4 982.0 295.2 986.2 299.1C990.4 303.0 995.5 306.2 1000.2 308.1C1004.9 310.0 1009.9 310.9 1014.3 310.2C1018.7 309.5 1022.0 305.6 1026.4 304.1C1030.8 302.6 1036.1 300.6 1040.5 301.1C1044.9 301.6 1048.6 304.4 1052.6 307.1C1056.6 309.8 1061.1 313.8 1064.6 317.2C1068.1 320.6 1072.2 325.6 1073.7 327.3" stroke="#052e05" stroke-width="4.9"/>
<path d="M1040.5 295.1C1040.3 297.8 1040.3 305.8 1039.5 311.2C1038.7 316.6 1037.7 321.9 1035.5 327.3C1033.3 332.7 1029.6 340.0 1026.4 343.4C1023.2 346.8 1019.3 345.1 1016.3 347.4C1013.3 349.7 1010.6 352.7 1008.3 357.4C1006.0 362.1 1003.8 370.1 1002.3 375.5C1000.8 380.9 999.9 385.2 999.2 389.6C998.5 394.0 998.4 399.7 998.2 401.7" stroke="#1b8a1b" stroke-width="6.6"/>
<path d="M1040.5 295.1C1040.3 297.8 1040.3 305.8 1039.5 311.2C1038.7 316.6 1037.7 321.9 1035.5 327.3C1033.3 332.7 1029.6 340.0 1026.4 343.4C1023.2 346.8 1019.3 345.1 1016.3 347.4C1013.3 349.7 1010.6 352.7 1008.3 357.4C1006.0 362.1 1003.8 370.1 1002.3 375.5C1000.8 380.9 999.9 385.2 999.2 389.6C998.5 394.0 998.4 399.7 998.2 401.7" stroke="#052e05" stroke-width="4.9"/>
<path d="M1050.5 340.3C1052.8 341.0 1059.6 343.9 1064.6 344.4C1069.6 344.9 1076.0 344.9 1080.7 343.4C1085.4 341.9 1089.5 338.3 1092.8 335.3C1096.1 332.3 1098.1 328.9 1100.8 325.2C1103.5 321.5 1105.5 316.5 1108.9 313.2C1112.3 309.9 1116.3 307.0 1121.0 305.1C1125.7 303.2 1132.1 302.1 1137.1 302.1C1142.1 302.1 1148.8 304.6 1151.1 305.1" stroke="#1b8a1b" stroke-width="6.6"/>
<path d="M1050.5 340.3C1052.8 341.0 1059.6 343.9 1064.6 344.4C1069.6 344.9 1076.0 344.9 1080.7 343.4C1085.4 341.9 1089.5 338.3 1092.8 335.3C1096.1 332.3 1098.1 328.9 1100.8 325.2C1103.5 321.5 1105.5 316.5 1108.9 313.2C1112.3 309.9 1116.3 307.0 1121.0 305.1C1125.7 303.2 1132.1 302.1 1137.1 302.1C1142.1 302.1 1148.8 304.6 1151.1 305.1" stroke="#052e05" stroke-width="4.9"/>
<path d="M979.1 416.8C981.0 419.0 986.0 426.0 990.2 429.9C994.4 433.8 999.6 437.5 1004.3 439.9C1009.0 442.2 1014.0 444.3 1018.4 444.0C1022.8 443.7 1026.4 439.2 1030.4 437.9C1034.4 436.5 1038.1 435.2 1042.5 435.9C1046.9 436.6 1052.2 439.2 1056.6 441.9C1061.0 444.6 1065.3 448.5 1068.7 452.0C1072.1 455.5 1075.4 461.2 1076.7 463.1" stroke="#1b8a1b" stroke-width="6.6"/>
<path d="M979.1 416.8C981.0 419.0 986.0 426.0 990.2 429.9C994.4 433.8 999.6 437.5 1004.3 439.9C1009.0 442.2 1014.0 444.3 1018.4 444.0C1022.8 443.7 1026.4 439.2 1030.4 437.9C1034.4 436.5 1038.1 435.2 1042.5 435.9C1046.9 436.6 1052.2 439.2 1056.6 441.9C1061.0 444.6 1065.3 448.5 1068.7 452.0C1072.1 455.5 1075.4 461.2 1076.7 463.1" stroke="#052e05" stroke-width="4.9"/>
<path d="M1101.9 379.6C1102.2 382.6 1102.1 392.0 1103.9 397.7C1105.7 403.4 1109.4 409.1 1112.9 413.8C1116.4 418.5 1121.0 423.5 1125.0 425.8C1129.0 428.1 1133.1 426.5 1137.1 427.9C1141.1 429.2 1145.8 430.9 1149.1 433.9C1152.4 436.9 1155.2 441.6 1157.2 446.0C1159.2 450.4 1159.7 455.6 1161.2 460.1C1162.7 464.6 1165.4 470.9 1166.2 473.1" stroke="#1b8a1b" stroke-width="6.6"/>
<path d="M1101.9 379.6C1102.2 382.6 1102.1 392.0 1103.9 397.7C1105.7 403.4 1109.4 409.1 1112.9 413.8C1116.4 418.5 1121.0 423.5 1125.0 425.8C1129.0 428.1 1133.1 426.5 1137.1 427.9C1141.1 429.2 1145.8 430.9 1149.1 433.9C1152.4 436.9 1155.2 441.6 1157.2 446.0C1159.2 450.4 1159.7 455.6 1161.2 460.1C1162.7 464.6 1165.4 470.9 1166.2 473.1" stroke="#052e05" stroke-width="4.9"/>
<path d="M1162.1 366.5C1164.1 367.3 1169.5 370.3 1174.2 371.5C1178.9 372.7 1185.3 374.0 1190.3 373.5C1195.3 373.0 1200.4 370.9 1204.4 368.5C1208.4 366.1 1211.1 362.6 1214.4 359.4C1217.8 356.2 1220.5 351.9 1224.5 349.4C1228.5 346.9 1233.9 345.1 1238.6 344.4C1243.3 343.7 1248.0 344.1 1252.7 345.4C1257.4 346.7 1264.5 351.2 1266.8 352.4" stroke="#1b8a1b" stroke-width="6.6"/>
<path d="M1162.1 366.5C1164.1 367.3 1169.5 370.3 1174.2 371.5C1178.9 372.7 1185.3 374.0 1190.3 373.5C1195.3 373.0 1200.4 370.9 1204.4 368.5C1208.4 366.1 1211.1 362.6 1214.4 359.4C1217.8 356.2 1220.5 351.9 1224.5 349.4C1228.5 346.9 1233.9 345.1 1238.6 344.4C1243.3 343.7 1248.0 344.1 1252.7 345.4C1257.4 346.7 1264.5 351.2 1266.8 352.4" stroke="#052e05" stroke-width="4.9"/>
<path d="M1300.0 383.6C1299.5 386.0 1299.1 393.4 1296.9 397.7C1294.7 402.0 1291.2 406.7 1286.9 409.7C1282.6 412.7 1275.5 414.3 1270.8 415.8C1266.1 417.3 1262.7 416.8 1258.7 418.8C1254.7 420.8 1250.3 424.0 1246.6 427.9C1242.9 431.8 1239.4 436.9 1236.6 441.9C1233.8 446.9 1231.2 452.8 1229.5 458.0C1227.8 463.2 1227.0 470.6 1226.5 473.1" stroke="#1b8a1b" stroke-width="6.6"/>
<path d="M1300.0 383.6C1299.5 386.0 1299.1 393.4 1296.9 397.7C1294.7 402.0 1291.2 406.7 1286.9 409.7C1282.6 412.7 1275.5 414.3 1270.8 415.8C1266.1 417.3 1262.7 416.8 1258.7 418.8C1254.7 420.8 1250.3 424.0 1246.6 427.9C1242.9 431.8 1239.4 436.9 1236.6 441.9C1233.8 446.9 1231.2 452.8 1229.5 458.0C1227.8 463.2 1227.0 470.6 1226.5 473.1" stroke="#052e05" stroke-width="4.9"/>
</g>
<g fill="none" stroke="#000" stroke-width="5" stroke-linejoin="round">
<rect x="37.7" y="96.6" width="365" height="382"/>
<rect x="506.8" y="99.6" width="365.4" height="383.4"/>
<rect x="965.6" y="99.6" width="364.9" height="383.4"/>
</g>
<g fill="none" stroke="#000" stroke-width="5.6" stroke-linecap="round" stroke-linejoin="round">
<path d="M421 280.2H489M470.7 268.5L490.6 280.2L470.7 291.6"/>
<path d="M882 283.9H951M932.5 272.5L953 283.9L932.5 296.5"/>
<path d="M1155.1 505V580M1142.7 560.3L1155.1 582L1166.3 560.3"/>
</g>

<ellipse cx="497" cy="607" rx="5" ry="5.6" fill="#FFE400"/>
<path d="M425.4 725.0C427.4 724.7 433.4 724.1 437.4 723.3C441.4 722.4 445.3 721.3 449.3 719.9C453.3 718.5 457.9 716.7 461.3 714.7C464.7 712.7 467.9 710.5 469.9 707.9C471.9 705.3 471.9 701.9 473.3 699.3C474.7 696.7 475.8 695.0 478.4 692.5C481.0 690.0 484.7 686.3 488.7 684.0C492.7 681.7 498.4 679.9 502.4 678.8C506.4 677.6 509.5 677.2 512.6 677.1C515.7 677.0 519.8 677.9 521.2 678.0" fill="none" stroke="#000" stroke-width="5.5" stroke-linecap="round"/>
<path d="M418.6 811.4C420.9 811.0 427.6 809.9 432.2 808.8C436.8 807.6 441.6 806.2 445.9 804.5C450.2 802.8 454.5 801.0 457.9 798.6C461.3 796.2 464.4 792.9 466.4 790.0C468.4 787.1 468.2 784.4 469.9 781.5C471.6 778.6 473.6 775.5 476.7 772.9C479.8 770.3 484.4 768.0 488.7 766.1C493.0 764.2 498.1 762.7 502.4 761.8C506.7 760.9 510.6 760.8 514.3 760.9C518.0 761.0 522.9 762.1 524.6 762.3" fill="none" stroke="#1b8a1b" stroke-width="7.5" stroke-linecap="round"/>
<path d="M418.6 811.4C420.9 811.0 427.6 809.9 432.2 808.8C436.8 807.6 441.6 806.2 445.9 804.5C450.2 802.8 454.5 801.0 457.9 798.6C461.3 796.2 464.4 792.9 466.4 790.0C468.4 787.1 468.2 784.4 469.9 781.5C471.6 778.6 473.6 775.5 476.7 772.9C479.8 770.3 484.4 768.0 488.7 766.1C493.0 764.2 498.1 762.7 502.4 761.8C506.7 760.9 510.6 760.8 514.3 760.9C518.0 761.0 522.9 762.1 524.6 762.3" fill="none" stroke="#073d07" stroke-width="5.5" stroke-linecap="round"/>
<g>
<path d="M1017.0 605.3 L1027.7 605.9 L1038.7 607.2 L1047.1 603.7 L1059.3 604.9 L1068.4 608.9 L1078.8 607.9 L1089.2 606.6 L1097.9 606.5 L1110.3 605.8 L1122.0 606.4 L1130.3 606.8 L1141.2 604.2 L1149.4 607.2 L1159.8 606.2 L1172.1 606.1 L1184.8 604.2 L1196.8 604.3 L1209.4 606.5 L1217.9 602.3 L1227.0 606.8 L1237.2 604.8 L1246.7 604.0 L1256.6 603.1 L1267.5 604.2 L1280.1 604.6 L1292.7 605.4 L1305.7 604.2 L1314.5 605.2 L1327.3 605.3 L1333.0 604.0 L1334.0 612.0 L1330.0 628.0 L1329.0 700.0 L1330.0 780.0 L1329.0 826.0 L1328.0 829.6 L1318.9 830.2 L1308.1 827.4 L1299.8 830.3 L1286.8 826.4 L1274.8 828.1 L1266.1 827.5 L1254.2 830.4 L1246.0 829.1 L1237.8 829.6 L1228.1 830.4 L1215.2 828.5 L1202.2 827.5 L1193.8 829.0 L1185.7 827.0 L1175.6 829.1 L1166.9 826.2 L1154.5 827.6 L1141.7 830.5 L1131.8 828.3 L1121.2 829.2 L1110.3 828.8 L1099.2 830.7 L1088.6 828.2 L1077.0 827.2 L1067.5 830.9 L1056.9 828.7 L1048.8 828.1 L1037.9 826.1 L1026.9 829.2 L1018.6 829.1 L1008.2 829.4 L1001.0 826.0 L998.6 814.3 L1000.9 806.0 L999.4 793.2 L1000.6 782.9 L999.8 773.3 L999.8 763.7 L999.6 752.8 L1001.2 742.9 L1000.5 734.7 L999.6 723.1 L1001.3 714.0 L999.2 704.8 L1000.9 694.6 L999.6 686.1 L1001.4 676.4 L1001.5 666.2 L1000.5 657.4 L1006.2 646.1 L1007.3 635.9 L1011.2 627.3 L1015.1 618.3Z" fill="#031d07"/>
<clipPath id="gb"><path d="M1017.0 605.3 L1027.7 605.9 L1038.7 607.2 L1047.1 603.7 L1059.3 604.9 L1068.4 608.9 L1078.8 607.9 L1089.2 606.6 L1097.9 606.5 L1110.3 605.8 L1122.0 606.4 L1130.3 606.8 L1141.2 604.2 L1149.4 607.2 L1159.8 606.2 L1172.1 606.1 L1184.8 604.2 L1196.8 604.3 L1209.4 606.5 L1217.9 602.3 L1227.0 606.8 L1237.2 604.8 L1246.7 604.0 L1256.6 603.1 L1267.5 604.2 L1280.1 604.6 L1292.7 605.4 L1305.7 604.2 L1314.5 605.2 L1327.3 605.3 L1333.0 604.0 L1334.0 612.0 L1330.0 628.0 L1329.0 700.0 L1330.0 780.0 L1329.0 826.0 L1328.0 829.6 L1318.9 830.2 L1308.1 827.4 L1299.8 830.3 L1286.8 826.4 L1274.8 828.1 L1266.1 827.5 L1254.2 830.4 L1246.0 829.1 L1237.8 829.6 L1228.1 830.4 L1215.2 828.5 L1202.2 827.5 L1193.8 829.0 L1185.7 827.0 L1175.6 829.1 L1166.9 826.2 L1154.5 827.6 L1141.7 830.5 L1131.8 828.3 L1121.2 829.2 L1110.3 828.8 L1099.2 830.7 L1088.6 828.2 L1077.0 827.2 L1067.5 830.9 L1056.9 828.7 L1048.8 828.1 L1037.9 826.1 L1026.9 829.2 L1018.6 829.1 L1008.2 829.4 L1001.0 826.0 L998.6 814.3 L1000.9 806.0 L999.4 793.2 L1000.6 782.9 L999.8 773.3 L999.8 763.7 L999.6 752.8 L1001.2 742.9 L1000.5 734.7 L999.6 723.1 L1001.3 714.0 L999.2 704.8 L1000.9 694.6 L999.6 686.1 L1001.4 676.4 L1001.5 666.2 L1000.5 657.4 L1006.2 646.1 L1007.3 635.9 L1011.2 627.3 L1015.1 618.3Z"/></clipPath>
<g fill="none" stroke-linecap="round" clip-path="url(#gb)">
<path d="M1192.8 809.4Q1228.0 775.4 1274.4 791.4" stroke="#03952b" stroke-width="9"/><path d="M1192.8 809.4Q1228.0 775.4 1274.4 791.4" stroke="#0CF052" stroke-width="6.6"/>
<path d="M992.8 742.3Q1030.1 759.1 1059.6 787.5" stroke="#03952b" stroke-width="9"/><path d="M992.8 742.3Q1030.1 759.1 1059.6 787.5" stroke="#0CF052" stroke-width="6.6"/>
<path d="M1208.4 682.5Q1156.7 691.7 1109.1 714.1" stroke="#03952b" stroke-width="9"/><path d="M1208.4 682.5Q1156.7 691.7 1109.1 714.1" stroke="#0CF052" stroke-width="6.6"/>
<path d="M1151.8 797.1Q1206.9 776.7 1251.4 815.1" stroke="#03952b" stroke-width="9"/><path d="M1151.8 797.1Q1206.9 776.7 1251.4 815.1" stroke="#0CF052" stroke-width="6.6"/>
<path d="M1264.4 583.5Q1257.1 614.8 1232.9 635.9" stroke="#03952b" stroke-width="9"/><path d="M1264.4 583.5Q1257.1 614.8 1232.9 635.9" stroke="#0CF052" stroke-width="6.6"/>
<path d="M1255.6 637.1Q1271.1 683.2 1294.7 725.7" stroke="#03952b" stroke-width="9"/><path d="M1255.6 637.1Q1271.1 683.2 1294.7 725.7" stroke="#0CF052" stroke-width="6.6"/>
<path d="M1234.7 719.6Q1225.4 758.3 1248.0 791.1" stroke="#03952b" stroke-width="9"/><path d="M1234.7 719.6Q1225.4 758.3 1248.0 791.1" stroke="#0CF052" stroke-width="6.6"/>
<path d="M1247.2 829.4Q1298.8 822.5 1349.4 809.7" stroke="#03952b" stroke-width="9"/><path d="M1247.2 829.4Q1298.8 822.5 1349.4 809.7" stroke="#0CF052" stroke-width="6.6"/>
<path d="M1036.2 579.0Q1001.9 623.3 1010.6 678.6" stroke="#03952b" stroke-width="9"/><path d="M1036.2 579.0Q1001.9 623.3 1010.6 678.6" stroke="#0CF052" stroke-width="6.6"/>
<path d="M1183.1 692.3Q1220.2 730.3 1224.0 783.3" stroke="#03952b" stroke-width="9"/><path d="M1183.1 692.3Q1220.2 730.3 1224.0 783.3" stroke="#0CF052" stroke-width="6.6"/>
<path d="M1301.8 654.6Q1298.7 694.4 1335.6 709.5" stroke="#03952b" stroke-width="9"/><path d="M1301.8 654.6Q1298.7 694.4 1335.6 709.5" stroke="#0CF052" stroke-width="6.6"/>
<path d="M1342.8 750.3Q1294.9 767.3 1245.8 754.0" stroke="#03952b" stroke-width="9"/><path d="M1342.8 750.3Q1294.9 767.3 1245.8 754.0" stroke="#0CF052" stroke-width="6.6"/>
<path d="M1221.4 749.0Q1187.2 785.5 1142.2 763.7" stroke="#03952b" stroke-width="9"/><path d="M1221.4 749.0Q1187.2 785.5 1142.2 763.7" stroke="#0CF052" stroke-width="6.6"/>
<path d="M1149.8 666.3Q1097.3 691.6 1042.1 672.9" stroke="#03952b" stroke-width="9"/><path d="M1149.8 666.3Q1097.3 691.6 1042.1 672.9" stroke="#0CF052" stroke-width="6.6"/>
<path d="M1025.5 730.6Q1063.6 721.5 1101.5 731.4" stroke="#03952b" stroke-width="9"/><path d="M1025.5 730.6Q1063.6 721.5 1101.5 731.4" stroke="#0CF052" stroke-width="6.6"/>
<path d="M1132.3 779.0Q1169.0 810.9 1213.4 790.9" stroke="#03952b" stroke-width="9"/><path d="M1132.3 779.0Q1169.0 810.9 1213.4 790.9" stroke="#0CF052" stroke-width="6.6"/>
<path d="M1335.9 694.1Q1304.0 704.6 1301.3 738.0" stroke="#03952b" stroke-width="9"/><path d="M1335.9 694.1Q1304.0 704.6 1301.3 738.0" stroke="#0CF052" stroke-width="6.6"/>
<path d="M1341.9 692.9Q1293.8 711.3 1245.6 693.2" stroke="#03952b" stroke-width="9"/><path d="M1341.9 692.9Q1293.8 711.3 1245.6 693.2" stroke="#0CF052" stroke-width="6.6"/>
<path d="M990.3 820.6Q1023.9 841.9 1052.8 814.7" stroke="#03952b" stroke-width="9"/><path d="M990.3 820.6Q1023.9 841.9 1052.8 814.7" stroke="#0CF052" stroke-width="6.6"/>
<path d="M1086.9 676.4Q1088.1 730.8 1044.8 763.9" stroke="#03952b" stroke-width="9"/><path d="M1086.9 676.4Q1088.1 730.8 1044.8 763.9" stroke="#0CF052" stroke-width="6.6"/>
<path d="M1193.9 687.9Q1221.3 726.0 1266.7 714.1" stroke="#03952b" stroke-width="9"/><path d="M1193.9 687.9Q1221.3 726.0 1266.7 714.1" stroke="#0CF052" stroke-width="6.6"/>
<path d="M1237.5 752.3Q1279.5 743.7 1314.8 767.9" stroke="#03952b" stroke-width="9"/><path d="M1237.5 752.3Q1279.5 743.7 1314.8 767.9" stroke="#0CF052" stroke-width="6.6"/>
<path d="M1051.8 628.0Q1016.3 616.4 982.0 631.1" stroke="#03952b" stroke-width="9"/><path d="M1051.8 628.0Q1016.3 616.4 982.0 631.1" stroke="#0CF052" stroke-width="6.6"/>
<path d="M1019.1 680.6Q1066.2 707.4 1116.2 728.5" stroke="#03952b" stroke-width="9"/><path d="M1019.1 680.6Q1066.2 707.4 1116.2 728.5" stroke="#0CF052" stroke-width="6.6"/>
<path d="M1096.2 728.6Q1082.9 764.6 1109.9 792.0" stroke="#03952b" stroke-width="9"/><path d="M1096.2 728.6Q1082.9 764.6 1109.9 792.0" stroke="#0CF052" stroke-width="6.6"/>
<path d="M1045.9 800.6Q1079.9 805.1 1112.8 815.1" stroke="#03952b" stroke-width="9"/><path d="M1045.9 800.6Q1079.9 805.1 1112.8 815.1" stroke="#0CF052" stroke-width="6.6"/>
<path d="M981.6 684.3Q1001.5 713.5 1036.4 707.8" stroke="#03952b" stroke-width="9"/><path d="M981.6 684.3Q1001.5 713.5 1036.4 707.8" stroke="#0CF052" stroke-width="6.6"/>
<path d="M1080.4 743.4Q1137.6 738.7 1170.4 786.0" stroke="#03952b" stroke-width="9"/><path d="M1080.4 743.4Q1137.6 738.7 1170.4 786.0" stroke="#0CF052" stroke-width="6.6"/>
<path d="M1096.8 655.0Q1064.6 703.5 1075.8 760.6" stroke="#03952b" stroke-width="9"/><path d="M1096.8 655.0Q1064.6 703.5 1075.8 760.6" stroke="#0CF052" stroke-width="6.6"/>
<path d="M1234.9 798.1Q1282.8 766.8 1339.9 771.0" stroke="#03952b" stroke-width="9"/><path d="M1234.9 798.1Q1282.8 766.8 1339.9 771.0" stroke="#0CF052" stroke-width="6.6"/>
<path d="M1267.3 657.6Q1244.0 672.8 1221.9 689.8" stroke="#03952b" stroke-width="9"/><path d="M1267.3 657.6Q1244.0 672.8 1221.9 689.8" stroke="#0CF052" stroke-width="6.6"/>
<path d="M1363.1 610.7Q1316.8 596.6 1276.0 622.8" stroke="#03952b" stroke-width="9"/><path d="M1363.1 610.7Q1316.8 596.6 1276.0 622.8" stroke="#0CF052" stroke-width="6.6"/>
<path d="M1101.7 608.2Q1124.6 634.3 1106.9 664.2" stroke="#03952b" stroke-width="9"/><path d="M1101.7 608.2Q1124.6 634.3 1106.9 664.2" stroke="#0CF052" stroke-width="6.6"/>
<path d="M1074.0 727.4Q1028.8 738.3 1012.0 781.8" stroke="#03952b" stroke-width="9"/><path d="M1074.0 727.4Q1028.8 738.3 1012.0 781.8" stroke="#0CF052" stroke-width="6.6"/>
<path d="M1291.6 652.8Q1245.4 654.5 1201.9 670.0" stroke="#03952b" stroke-width="9"/><path d="M1291.6 652.8Q1245.4 654.5 1201.9 670.0" stroke="#0CF052" stroke-width="6.6"/>
<path d="M1085.4 617.4Q1080.9 650.9 1067.3 681.8" stroke="#03952b" stroke-width="9"/><path d="M1085.4 617.4Q1080.9 650.9 1067.3 681.8" stroke="#0CF052" stroke-width="6.6"/>
<path d="M1195.3 609.4Q1148.3 634.9 1131.0 685.5" stroke="#03952b" stroke-width="9"/><path d="M1195.3 609.4Q1148.3 634.9 1131.0 685.5" stroke="#0CF052" stroke-width="6.6"/>
<path d="M1148.9 822.8Q1199.9 791.6 1253.2 818.5" stroke="#03952b" stroke-width="9"/><path d="M1148.9 822.8Q1199.9 791.6 1253.2 818.5" stroke="#0CF052" stroke-width="6.6"/>
<path d="M1148.2 813.4Q1181.5 809.9 1211.2 825.5" stroke="#03952b" stroke-width="9"/><path d="M1148.2 813.4Q1181.5 809.9 1211.2 825.5" stroke="#0CF052" stroke-width="6.6"/>
<path d="M1217.4 695.2Q1220.1 733.5 1255.4 748.6" stroke="#03952b" stroke-width="9"/><path d="M1217.4 695.2Q1220.1 733.5 1255.4 748.6" stroke="#0CF052" stroke-width="6.6"/>
<path d="M1133.6 626.9Q1171.7 629.7 1206.8 644.9" stroke="#03952b" stroke-width="9"/><path d="M1133.6 626.9Q1171.7 629.7 1206.8 644.9" stroke="#0CF052" stroke-width="6.6"/>
<path d="M1112.5 591.9Q1143.0 602.8 1164.3 627.2" stroke="#03952b" stroke-width="9"/><path d="M1112.5 591.9Q1143.0 602.8 1164.3 627.2" stroke="#0CF052" stroke-width="6.6"/>
<path d="M968.2 799.8Q1015.9 802.1 1054.1 773.4" stroke="#03952b" stroke-width="9"/><path d="M968.2 799.8Q1015.9 802.1 1054.1 773.4" stroke="#0CF052" stroke-width="6.6"/>
<path d="M1113.7 724.3Q1084.5 736.5 1070.7 765.1" stroke="#03952b" stroke-width="9"/><path d="M1113.7 724.3Q1084.5 736.5 1070.7 765.1" stroke="#0CF052" stroke-width="6.6"/>
<path d="M1166.4 616.8Q1207.3 600.2 1243.5 625.5" stroke="#03952b" stroke-width="9"/><path d="M1166.4 616.8Q1207.3 600.2 1243.5 625.5" stroke="#0CF052" stroke-width="6.6"/>
<path d="M1254.1 584.6Q1232.9 627.7 1211.0 670.5" stroke="#03952b" stroke-width="9"/><path d="M1254.1 584.6Q1232.9 627.7 1211.0 670.5" stroke="#0CF052" stroke-width="6.6"/>
<path d="M1075.6 731.8Q1098.9 764.4 1119.0 799.2" stroke="#03952b" stroke-width="9"/><path d="M1075.6 731.8Q1098.9 764.4 1119.0 799.2" stroke="#0CF052" stroke-width="6.6"/>
<path d="M1122.5 731.8Q1157.2 747.7 1195.4 749.8" stroke="#03952b" stroke-width="9"/><path d="M1122.5 731.8Q1157.2 747.7 1195.4 749.8" stroke="#0CF052" stroke-width="6.6"/>
<path d="M970.3 651.3Q1021.2 628.7 1069.9 655.8" stroke="#03952b" stroke-width="9"/><path d="M970.3 651.3Q1021.2 628.7 1069.9 655.8" stroke="#0CF052" stroke-width="6.6"/>
<path d="M1253.5 795.4Q1295.7 775.7 1342.2 775.4" stroke="#03952b" stroke-width="9"/><path d="M1253.5 795.4Q1295.7 775.7 1342.2 775.4" stroke="#0CF052" stroke-width="6.6"/>
<path d="M1244.4 800.1Q1283.6 817.4 1314.6 787.9" stroke="#03952b" stroke-width="9"/><path d="M1244.4 800.1Q1283.6 817.4 1314.6 787.9" stroke="#0CF052" stroke-width="6.6"/>
<path d="M1179.1 671.6Q1143.0 698.1 1098.3 700.1" stroke="#03952b" stroke-width="9"/><path d="M1179.1 671.6Q1143.0 698.1 1098.3 700.1" stroke="#0CF052" stroke-width="6.6"/>
<path d="M983.1 728.8Q1023.3 730.2 1055.9 753.9" stroke="#03952b" stroke-width="9"/><path d="M983.1 728.8Q1023.3 730.2 1055.9 753.9" stroke="#0CF052" stroke-width="6.6"/>
<path d="M1085.6 675.9Q1045.9 691.5 1004.1 700.6" stroke="#03952b" stroke-width="9"/><path d="M1085.6 675.9Q1045.9 691.5 1004.1 700.6" stroke="#0CF052" stroke-width="6.6"/>
<path d="M1264.7 694.2Q1223.6 735.4 1165.4 736.9" stroke="#03952b" stroke-width="9"/><path d="M1264.7 694.2Q1223.6 735.4 1165.4 736.9" stroke="#0CF052" stroke-width="6.6"/>
<path d="M1141.9 739.6Q1170.1 734.2 1197.5 742.6" stroke="#03952b" stroke-width="9"/><path d="M1141.9 739.6Q1170.1 734.2 1197.5 742.6" stroke="#0CF052" stroke-width="6.6"/>
<path d="M1181.7 672.6Q1233.4 684.1 1249.0 734.8" stroke="#03952b" stroke-width="9"/><path d="M1181.7 672.6Q1233.4 684.1 1249.0 734.8" stroke="#0CF052" stroke-width="6.6"/>
<path d="M1045.7 804.7Q1073.0 779.8 1109.6 785.6" stroke="#03952b" stroke-width="9"/><path d="M1045.7 804.7Q1073.0 779.8 1109.6 785.6" stroke="#0CF052" stroke-width="6.6"/>
<path d="M1124.5 702.9Q1112.1 736.6 1081.8 755.8" stroke="#03952b" stroke-width="9"/><path d="M1124.5 702.9Q1112.1 736.6 1081.8 755.8" stroke="#0CF052" stroke-width="6.6"/>
<path d="M1289.3 593.0Q1254.8 603.2 1233.6 632.3" stroke="#03952b" stroke-width="9"/><path d="M1289.3 593.0Q1254.8 603.2 1233.6 632.3" stroke="#0CF052" stroke-width="6.6"/>
<path d="M1246.9 747.7Q1200.0 761.9 1155.6 782.5" stroke="#03952b" stroke-width="9"/><path d="M1246.9 747.7Q1200.0 761.9 1155.6 782.5" stroke="#0CF052" stroke-width="6.6"/>
<path d="M972.0 809.4Q1001.4 785.7 1032.6 807.2" stroke="#03952b" stroke-width="9"/><path d="M972.0 809.4Q1001.4 785.7 1032.6 807.2" stroke="#0CF052" stroke-width="6.6"/>
<path d="M984.2 766.6Q1029.3 763.9 1067.9 787.4" stroke="#03952b" stroke-width="9"/><path d="M984.2 766.6Q1029.3 763.9 1067.9 787.4" stroke="#0CF052" stroke-width="6.6"/>
<path d="M1299.6 620.4Q1294.6 664.5 1277.0 705.2" stroke="#03952b" stroke-width="9"/><path d="M1299.6 620.4Q1294.6 664.5 1277.0 705.2" stroke="#0CF052" stroke-width="6.6"/>
<path d="M1248.5 560.4Q1262.4 609.5 1286.5 654.5" stroke="#03952b" stroke-width="9"/><path d="M1248.5 560.4Q1262.4 609.5 1286.5 654.5" stroke="#0CF052" stroke-width="6.6"/>
<path d="M1281.1 612.5Q1279.0 665.0 1232.0 688.5" stroke="#03952b" stroke-width="9"/><path d="M1281.1 612.5Q1279.0 665.0 1232.0 688.5" stroke="#0CF052" stroke-width="6.6"/>
<path d="M1085.9 695.6Q1135.8 704.2 1155.9 750.6" stroke="#03952b" stroke-width="9"/><path d="M1085.9 695.6Q1135.8 704.2 1155.9 750.6" stroke="#0CF052" stroke-width="6.6"/>
<path d="M1125.7 703.5Q1131.2 753.7 1121.5 803.4" stroke="#03952b" stroke-width="9"/><path d="M1125.7 703.5Q1131.2 753.7 1121.5 803.4" stroke="#0CF052" stroke-width="6.6"/>
<path d="M1082.0 815.9Q1120.6 787.5 1162.0 811.5" stroke="#03952b" stroke-width="9"/><path d="M1082.0 815.9Q1120.6 787.5 1162.0 811.5" stroke="#0CF052" stroke-width="6.6"/>
<path d="M1064.5 831.2Q1106.8 822.4 1146.8 805.9" stroke="#03952b" stroke-width="9"/><path d="M1064.5 831.2Q1106.8 822.4 1146.8 805.9" stroke="#0CF052" stroke-width="6.6"/>
<path d="M958.9 714.6Q1009.5 698.2 1053.9 727.3" stroke="#03952b" stroke-width="9"/><path d="M958.9 714.6Q1009.5 698.2 1053.9 727.3" stroke="#0CF052" stroke-width="6.6"/>
<path d="M1148.5 729.5Q1116.5 751.7 1077.7 756.1" stroke="#03952b" stroke-width="9"/><path d="M1148.5 729.5Q1116.5 751.7 1077.7 756.1" stroke="#0CF052" stroke-width="6.6"/>
<path d="M1251.4 653.5Q1229.0 693.7 1183.2 698.3" stroke="#03952b" stroke-width="9"/><path d="M1251.4 653.5Q1229.0 693.7 1183.2 698.3" stroke="#0CF052" stroke-width="6.6"/>
<path d="M1237.0 749.9Q1279.7 736.6 1300.7 776.1" stroke="#03952b" stroke-width="9"/><path d="M1237.0 749.9Q1279.7 736.6 1300.7 776.1" stroke="#0CF052" stroke-width="6.6"/>
<path d="M1305.0 645.5Q1315.2 680.6 1350.0 691.2" stroke="#03952b" stroke-width="9"/><path d="M1305.0 645.5Q1315.2 680.6 1350.0 691.2" stroke="#0CF052" stroke-width="6.6"/>
<path d="M1179.9 811.4Q1220.7 839.1 1266.8 822.0" stroke="#03952b" stroke-width="9"/><path d="M1179.9 811.4Q1220.7 839.1 1266.8 822.0" stroke="#0CF052" stroke-width="6.6"/>
<path d="M1205.3 762.4Q1252.8 780.3 1303.2 787.3" stroke="#03952b" stroke-width="9"/><path d="M1205.3 762.4Q1252.8 780.3 1303.2 787.3" stroke="#0CF052" stroke-width="6.6"/>
<path d="M1078.2 658.3Q1076.0 711.3 1056.8 760.7" stroke="#03952b" stroke-width="9"/><path d="M1078.2 658.3Q1076.0 711.3 1056.8 760.7" stroke="#0CF052" stroke-width="6.6"/>
<path d="M1257.0 741.4Q1289.7 767.3 1331.2 771.7" stroke="#03952b" stroke-width="9"/><path d="M1257.0 741.4Q1289.7 767.3 1331.2 771.7" stroke="#0CF052" stroke-width="6.6"/>
<path d="M1189.4 726.3Q1165.2 766.5 1157.9 812.8" stroke="#03952b" stroke-width="9"/><path d="M1189.4 726.3Q1165.2 766.5 1157.9 812.8" stroke="#0CF052" stroke-width="6.6"/>
<path d="M1285.3 721.7Q1324.4 719.6 1362.6 728.0" stroke="#03952b" stroke-width="9"/><path d="M1285.3 721.7Q1324.4 719.6 1362.6 728.0" stroke="#0CF052" stroke-width="6.6"/>
<path d="M1204.0 609.4Q1195.6 648.5 1196.3 688.4" stroke="#03952b" stroke-width="9"/><path d="M1204.0 609.4Q1195.6 648.5 1196.3 688.4" stroke="#0CF052" stroke-width="6.6"/>
<path d="M1137.9 599.3Q1120.3 644.2 1127.3 691.9" stroke="#03952b" stroke-width="9"/><path d="M1137.9 599.3Q1120.3 644.2 1127.3 691.9" stroke="#0CF052" stroke-width="6.6"/>
<path d="M1163.8 648.5Q1157.2 699.7 1108.2 716.1" stroke="#03952b" stroke-width="9"/><path d="M1163.8 648.5Q1157.2 699.7 1108.2 716.1" stroke="#0CF052" stroke-width="6.6"/>
<path d="M1037.2 800.4Q1072.6 806.5 1108.3 809.6" stroke="#03952b" stroke-width="9"/><path d="M1037.2 800.4Q1072.6 806.5 1108.3 809.6" stroke="#0CF052" stroke-width="6.6"/>
<path d="M1144.4 680.5Q1110.7 727.1 1131.4 780.8" stroke="#03952b" stroke-width="9"/><path d="M1144.4 680.5Q1110.7 727.1 1131.4 780.8" stroke="#0CF052" stroke-width="6.6"/>
<path d="M1044.9 776.1Q1080.4 774.2 1114.6 783.6" stroke="#03952b" stroke-width="9"/><path d="M1044.9 776.1Q1080.4 774.2 1114.6 783.6" stroke="#0CF052" stroke-width="6.6"/>
<path d="M1006.8 812.6Q1045.1 795.9 1086.2 803.2" stroke="#03952b" stroke-width="9"/><path d="M1006.8 812.6Q1045.1 795.9 1086.2 803.2" stroke="#0CF052" stroke-width="6.6"/>
<path d="M1052.9 613.5Q1015.6 618.2 985.3 640.5" stroke="#03952b" stroke-width="9"/><path d="M1052.9 613.5Q1015.6 618.2 985.3 640.5" stroke="#0CF052" stroke-width="6.6"/>
<path d="M1122.4 607.0Q1113.2 645.0 1122.8 683.0" stroke="#03952b" stroke-width="9"/><path d="M1122.4 607.0Q1113.2 645.0 1122.8 683.0" stroke="#0CF052" stroke-width="6.6"/>
<path d="M1337.8 640.3Q1301.1 640.1 1266.7 653.1" stroke="#03952b" stroke-width="9"/><path d="M1337.8 640.3Q1301.1 640.1 1266.7 653.1" stroke="#0CF052" stroke-width="6.6"/>
<path d="M1266.7 703.6Q1241.5 738.8 1275.1 766.3" stroke="#03952b" stroke-width="9"/><path d="M1266.7 703.6Q1241.5 738.8 1275.1 766.3" stroke="#0CF052" stroke-width="6.6"/>
<path d="M1054.8 680.8Q1037.0 716.1 1021.1 752.4" stroke="#03952b" stroke-width="9"/><path d="M1054.8 680.8Q1037.0 716.1 1021.1 752.4" stroke="#0CF052" stroke-width="6.6"/>
<path d="M1260.4 640.6Q1247.5 679.8 1281.7 702.8" stroke="#03952b" stroke-width="9"/><path d="M1260.4 640.6Q1247.5 679.8 1281.7 702.8" stroke="#0CF052" stroke-width="6.6"/>
<path d="M1169.5 614.3Q1191.8 657.8 1240.7 656.3" stroke="#03952b" stroke-width="9"/><path d="M1169.5 614.3Q1191.8 657.8 1240.7 656.3" stroke="#0CF052" stroke-width="6.6"/>
<path d="M1126.0 584.4Q1142.6 607.2 1152.3 633.8" stroke="#03952b" stroke-width="9"/><path d="M1126.0 584.4Q1142.6 607.2 1152.3 633.8" stroke="#0CF052" stroke-width="6.6"/>
<path d="M1282.0 780.4Q1322.3 809.0 1364.6 783.5" stroke="#03952b" stroke-width="9"/><path d="M1282.0 780.4Q1322.3 809.0 1364.6 783.5" stroke="#0CF052" stroke-width="6.6"/>
<path d="M1097.7 811.2Q1128.0 785.9 1164.9 799.7" stroke="#03952b" stroke-width="9"/><path d="M1097.7 811.2Q1128.0 785.9 1164.9 799.7" stroke="#0CF052" stroke-width="6.6"/>
<path d="M1269.2 672.2Q1274.7 708.0 1258.0 740.1" stroke="#03952b" stroke-width="9"/><path d="M1269.2 672.2Q1274.7 708.0 1258.0 740.1" stroke="#0CF052" stroke-width="6.6"/>
<path d="M1177.1 699.0Q1169.5 731.3 1153.5 760.4" stroke="#03952b" stroke-width="9"/><path d="M1177.1 699.0Q1169.5 731.3 1153.5 760.4" stroke="#0CF052" stroke-width="6.6"/>
<path d="M1307.8 686.4Q1271.2 706.5 1234.0 725.2" stroke="#03952b" stroke-width="9"/><path d="M1307.8 686.4Q1271.2 706.5 1234.0 725.2" stroke="#0CF052" stroke-width="6.6"/>
<path d="M1082.9 795.7Q1110.2 818.1 1142.1 803.2" stroke="#03952b" stroke-width="9"/><path d="M1082.9 795.7Q1110.2 818.1 1142.1 803.2" stroke="#0CF052" stroke-width="6.6"/>
<path d="M1185.8 651.2Q1188.7 690.1 1151.5 701.7" stroke="#03952b" stroke-width="9"/><path d="M1185.8 651.2Q1188.7 690.1 1151.5 701.7" stroke="#0CF052" stroke-width="6.6"/>
<path d="M995.4 800.0Q1026.5 822.8 1064.3 815.6" stroke="#03952b" stroke-width="9"/><path d="M995.4 800.0Q1026.5 822.8 1064.3 815.6" stroke="#0CF052" stroke-width="6.6"/>
<path d="M1164.0 785.9Q1212.4 779.1 1259.9 767.2" stroke="#03952b" stroke-width="9"/><path d="M1164.0 785.9Q1212.4 779.1 1259.9 767.2" stroke="#0CF052" stroke-width="6.6"/>
<path d="M1193.3 647.4Q1216.5 680.0 1256.2 685.2" stroke="#03952b" stroke-width="9"/><path d="M1193.3 647.4Q1216.5 680.0 1256.2 685.2" stroke="#0CF052" stroke-width="6.6"/>
<path d="M1175.0 616.5Q1216.5 654.1 1272.2 648.0" stroke="#03952b" stroke-width="9"/><path d="M1175.0 616.5Q1216.5 654.1 1272.2 648.0" stroke="#0CF052" stroke-width="6.6"/>
<path d="M1110.1 713.9Q1138.0 738.0 1149.7 772.9" stroke="#03952b" stroke-width="9"/><path d="M1110.1 713.9Q1138.0 738.0 1149.7 772.9" stroke="#0CF052" stroke-width="6.6"/>
<path d="M1067.8 793.9Q1112.5 780.4 1141.9 816.7" stroke="#03952b" stroke-width="9"/><path d="M1067.8 793.9Q1112.5 780.4 1141.9 816.7" stroke="#0CF052" stroke-width="6.6"/>
<path d="M1193.0 620.8Q1226.1 603.2 1248.8 633.1" stroke="#03952b" stroke-width="9"/><path d="M1193.0 620.8Q1226.1 603.2 1248.8 633.1" stroke="#0CF052" stroke-width="6.6"/>
<path d="M1182.0 764.1Q1236.1 766.2 1288.6 779.4" stroke="#03952b" stroke-width="9"/><path d="M1182.0 764.1Q1236.1 766.2 1288.6 779.4" stroke="#0CF052" stroke-width="6.6"/>
<path d="M1171.3 792.0Q1200.6 786.7 1230.2 790.7" stroke="#03952b" stroke-width="9"/><path d="M1171.3 792.0Q1200.6 786.7 1230.2 790.7" stroke="#0CF052" stroke-width="6.6"/>
<path d="M1028.1 761.8Q1066.7 781.6 1110.0 783.9" stroke="#03952b" stroke-width="9"/><path d="M1028.1 761.8Q1066.7 781.6 1110.0 783.9" stroke="#0CF052" stroke-width="6.6"/>
<path d="M1206.4 639.3Q1193.7 674.4 1167.1 700.6" stroke="#03952b" stroke-width="9"/><path d="M1206.4 639.3Q1193.7 674.4 1167.1 700.6" stroke="#0CF052" stroke-width="6.6"/>
<path d="M981.9 714.0Q1023.4 703.7 1055.7 731.9" stroke="#03952b" stroke-width="9"/><path d="M981.9 714.0Q1023.4 703.7 1055.7 731.9" stroke="#0CF052" stroke-width="6.6"/>
<path d="M1200.1 636.5Q1248.9 650.1 1263.7 698.6" stroke="#03952b" stroke-width="9"/><path d="M1200.1 636.5Q1248.9 650.1 1263.7 698.6" stroke="#0CF052" stroke-width="6.6"/>
<path d="M1269.0 636.5Q1254.0 680.3 1226.2 717.4" stroke="#03952b" stroke-width="9"/><path d="M1269.0 636.5Q1254.0 680.3 1226.2 717.4" stroke="#0CF052" stroke-width="6.6"/>
<path d="M1037.9 749.4Q1072.5 759.5 1105.1 774.7" stroke="#03952b" stroke-width="9"/><path d="M1037.9 749.4Q1072.5 759.5 1105.1 774.7" stroke="#0CF052" stroke-width="6.6"/>
<path d="M1041.7 656.5Q1005.3 652.4 993.4 687.0" stroke="#03952b" stroke-width="9"/><path d="M1041.7 656.5Q1005.3 652.4 993.4 687.0" stroke="#0CF052" stroke-width="6.6"/>
<path d="M1330.6 727.9Q1298.9 720.4 1268.4 731.6" stroke="#03952b" stroke-width="9"/><path d="M1330.6 727.9Q1298.9 720.4 1268.4 731.6" stroke="#0CF052" stroke-width="6.6"/>
<path d="M1043.8 676.6Q1059.1 713.5 1099.1 711.9" stroke="#03952b" stroke-width="9"/><path d="M1043.8 676.6Q1059.1 713.5 1099.1 711.9" stroke="#0CF052" stroke-width="6.6"/>
<path d="M1212.9 820.2Q1243.6 812.4 1271.3 827.7" stroke="#03952b" stroke-width="9"/><path d="M1212.9 820.2Q1243.6 812.4 1271.3 827.7" stroke="#0CF052" stroke-width="6.6"/>
<path d="M1196.6 638.4Q1161.1 668.6 1115.4 677.9" stroke="#03952b" stroke-width="9"/><path d="M1196.6 638.4Q1161.1 668.6 1115.4 677.9" stroke="#0CF052" stroke-width="6.6"/>
<path d="M1109.6 768.4Q1158.7 778.1 1208.4 771.6" stroke="#03952b" stroke-width="9"/><path d="M1109.6 768.4Q1158.7 778.1 1208.4 771.6" stroke="#0CF052" stroke-width="6.6"/>
<path d="M1085.5 643.8Q1102.2 672.2 1130.0 690.0" stroke="#03952b" stroke-width="9"/><path d="M1085.5 643.8Q1102.2 672.2 1130.0 690.0" stroke="#0CF052" stroke-width="6.6"/>
<path d="M1238.6 591.1Q1231.4 631.1 1249.1 667.6" stroke="#03952b" stroke-width="9"/><path d="M1238.6 591.1Q1231.4 631.1 1249.1 667.6" stroke="#0CF052" stroke-width="6.6"/>
<path d="M1065.7 643.7Q1108.3 654.6 1149.3 670.4" stroke="#03952b" stroke-width="9"/><path d="M1065.7 643.7Q1108.3 654.6 1149.3 670.4" stroke="#0CF052" stroke-width="6.6"/>
<path d="M1327.6 656.0Q1280.1 666.8 1231.5 671.1" stroke="#03952b" stroke-width="9"/><path d="M1327.6 656.0Q1280.1 666.8 1231.5 671.1" stroke="#0CF052" stroke-width="6.6"/>
<path d="M1057.8 588.4Q1077.5 617.8 1108.7 634.5" stroke="#03952b" stroke-width="9"/><path d="M1057.8 588.4Q1077.5 617.8 1108.7 634.5" stroke="#0CF052" stroke-width="6.6"/>
<path d="M1084.2 740.7Q1063.9 768.8 1040.3 794.1" stroke="#03952b" stroke-width="9"/><path d="M1084.2 740.7Q1063.9 768.8 1040.3 794.1" stroke="#0CF052" stroke-width="6.6"/>
<path d="M1095.8 566.4Q1070.5 609.1 1043.5 650.6" stroke="#03952b" stroke-width="9"/><path d="M1095.8 566.4Q1070.5 609.1 1043.5 650.6" stroke="#0CF052" stroke-width="6.6"/>
<path d="M1147.8 645.7Q1172.4 691.9 1209.3 729.1" stroke="#03952b" stroke-width="9"/><path d="M1147.8 645.7Q1172.4 691.9 1209.3 729.1" stroke="#0CF052" stroke-width="6.6"/>
<path d="M1242.6 597.1Q1215.2 629.7 1193.2 666.1" stroke="#03952b" stroke-width="9"/><path d="M1242.6 597.1Q1215.2 629.7 1193.2 666.1" stroke="#0CF052" stroke-width="6.6"/>
<path d="M1217.1 689.2Q1236.7 710.0 1262.0 723.3" stroke="#03952b" stroke-width="9"/><path d="M1217.1 689.2Q1236.7 710.0 1262.0 723.3" stroke="#0CF052" stroke-width="6.6"/>
<path d="M1210.1 692.2Q1190.6 744.1 1216.1 793.4" stroke="#03952b" stroke-width="9"/><path d="M1210.1 692.2Q1190.6 744.1 1216.1 793.4" stroke="#0CF052" stroke-width="6.6"/>
<path d="M1044.7 582.6Q1035.4 626.1 1038.8 670.6" stroke="#03952b" stroke-width="9"/><path d="M1044.7 582.6Q1035.4 626.1 1038.8 670.6" stroke="#0CF052" stroke-width="6.6"/>
<path d="M1124.1 683.8Q1158.7 691.6 1193.8 696.6" stroke="#03952b" stroke-width="9"/><path d="M1124.1 683.8Q1158.7 691.6 1193.8 696.6" stroke="#0CF052" stroke-width="6.6"/>
<path d="M1256.5 813.2Q1295.9 824.8 1331.3 803.9" stroke="#03952b" stroke-width="9"/><path d="M1256.5 813.2Q1295.9 824.8 1331.3 803.9" stroke="#0CF052" stroke-width="6.6"/>
<path d="M1251.1 593.5Q1249.8 636.1 1291.4 645.4" stroke="#03952b" stroke-width="9"/><path d="M1251.1 593.5Q1249.8 636.1 1291.4 645.4" stroke="#0CF052" stroke-width="6.6"/>
<path d="M1204.6 801.1Q1238.3 770.1 1283.2 778.4" stroke="#03952b" stroke-width="9"/><path d="M1204.6 801.1Q1238.3 770.1 1283.2 778.4" stroke="#0CF052" stroke-width="6.6"/>
<path d="M1157.7 712.3Q1120.5 729.8 1080.2 721.2" stroke="#03952b" stroke-width="9"/><path d="M1157.7 712.3Q1120.5 729.8 1080.2 721.2" stroke="#0CF052" stroke-width="6.6"/>
<path d="M1178.5 672.0Q1142.7 697.2 1104.4 718.5" stroke="#03952b" stroke-width="9"/><path d="M1178.5 672.0Q1142.7 697.2 1104.4 718.5" stroke="#0CF052" stroke-width="6.6"/>
<path d="M1284.5 796.1Q1327.7 796.5 1365.8 816.8" stroke="#03952b" stroke-width="9"/><path d="M1284.5 796.1Q1327.7 796.5 1365.8 816.8" stroke="#0CF052" stroke-width="6.6"/>
<path d="M1343.2 689.8Q1339.8 746.9 1288.1 771.3" stroke="#03952b" stroke-width="9"/><path d="M1343.2 689.8Q1339.8 746.9 1288.1 771.3" stroke="#0CF052" stroke-width="6.6"/>
<path d="M1211.5 624.0Q1198.4 667.6 1189.8 712.2" stroke="#03952b" stroke-width="9"/><path d="M1211.5 624.0Q1198.4 667.6 1189.8 712.2" stroke="#0CF052" stroke-width="6.6"/>
<path d="M1293.9 572.7Q1303.7 612.5 1298.3 653.2" stroke="#03952b" stroke-width="9"/><path d="M1293.9 572.7Q1303.7 612.5 1298.3 653.2" stroke="#0CF052" stroke-width="6.6"/>
<path d="M1186.3 655.8Q1188.6 695.2 1228.0 691.9" stroke="#03952b" stroke-width="9"/><path d="M1186.3 655.8Q1188.6 695.2 1228.0 691.9" stroke="#0CF052" stroke-width="6.6"/>
<path d="M1211.0 809.1Q1245.6 794.1 1274.6 818.2" stroke="#03952b" stroke-width="9"/><path d="M1211.0 809.1Q1245.6 794.1 1274.6 818.2" stroke="#0CF052" stroke-width="6.6"/>
<path d="M1237.9 813.5Q1283.7 807.6 1329.5 813.9" stroke="#03952b" stroke-width="9"/><path d="M1237.9 813.5Q1283.7 807.6 1329.5 813.9" stroke="#0CF052" stroke-width="6.6"/>
<path d="M1126.7 820.7Q1169.7 832.7 1202.4 802.3" stroke="#03952b" stroke-width="9"/><path d="M1126.7 820.7Q1169.7 832.7 1202.4 802.3" stroke="#0CF052" stroke-width="6.6"/>
<path d="M1182.6 641.6Q1175.2 696.8 1136.0 736.3" stroke="#03952b" stroke-width="9"/><path d="M1182.6 641.6Q1175.2 696.8 1136.0 736.3" stroke="#0CF052" stroke-width="6.6"/>
<path d="M1216.9 728.3Q1221.1 767.2 1260.2 768.0" stroke="#03952b" stroke-width="9"/><path d="M1216.9 728.3Q1221.1 767.2 1260.2 768.0" stroke="#0CF052" stroke-width="6.6"/>
<path d="M1263.8 687.1Q1296.0 720.7 1297.6 767.3" stroke="#03952b" stroke-width="9"/><path d="M1263.8 687.1Q1296.0 720.7 1297.6 767.3" stroke="#0CF052" stroke-width="6.6"/>
<path d="M1127.4 722.4Q1167.5 737.8 1209.3 747.3" stroke="#03952b" stroke-width="9"/><path d="M1127.4 722.4Q1167.5 737.8 1209.3 747.3" stroke="#0CF052" stroke-width="6.6"/>
<path d="M1203.8 737.0Q1155.9 754.1 1123.6 793.5" stroke="#03952b" stroke-width="9"/><path d="M1203.8 737.0Q1155.9 754.1 1123.6 793.5" stroke="#0CF052" stroke-width="6.6"/>
<path d="M1100.1 670.7Q1070.4 712.8 1020.8 698.7" stroke="#03952b" stroke-width="9"/><path d="M1100.1 670.7Q1070.4 712.8 1020.8 698.7" stroke="#0CF052" stroke-width="6.6"/>
<path d="M1288.6 809.6Q1328.0 789.2 1369.0 806.0" stroke="#03952b" stroke-width="9"/><path d="M1288.6 809.6Q1328.0 789.2 1369.0 806.0" stroke="#0CF052" stroke-width="6.6"/>
<path d="M1150.4 686.7Q1163.9 724.1 1203.7 722.9" stroke="#03952b" stroke-width="9"/><path d="M1150.4 686.7Q1163.9 724.1 1203.7 722.9" stroke="#0CF052" stroke-width="6.6"/>
<path d="M1230.0 612.8Q1195.5 637.5 1153.2 638.1" stroke="#03952b" stroke-width="9"/><path d="M1230.0 612.8Q1195.5 637.5 1153.2 638.1" stroke="#0CF052" stroke-width="6.6"/>
<path d="M1048.1 649.4Q1092.7 672.3 1142.8 672.0" stroke="#03952b" stroke-width="9"/><path d="M1048.1 649.4Q1092.7 672.3 1142.8 672.0" stroke="#0CF052" stroke-width="6.6"/>
<path d="M1284.3 789.5Q1324.0 799.3 1364.7 794.9" stroke="#03952b" stroke-width="9"/><path d="M1284.3 789.5Q1324.0 799.3 1364.7 794.9" stroke="#0CF052" stroke-width="6.6"/>
<path d="M1130.4 627.0Q1093.6 669.9 1096.6 726.4" stroke="#03952b" stroke-width="9"/><path d="M1130.4 627.0Q1093.6 669.9 1096.6 726.4" stroke="#0CF052" stroke-width="6.6"/>
<path d="M1018.7 633.5Q1057.1 658.0 1091.4 687.9" stroke="#03952b" stroke-width="9"/><path d="M1018.7 633.5Q1057.1 658.0 1091.4 687.9" stroke="#0CF052" stroke-width="6.6"/>
<path d="M1272.7 771.6Q1326.9 783.4 1381.0 771.7" stroke="#03952b" stroke-width="9"/><path d="M1272.7 771.6Q1326.9 783.4 1381.0 771.7" stroke="#0CF052" stroke-width="6.6"/>
<path d="M1215.9 677.4Q1236.2 721.1 1284.0 727.2" stroke="#03952b" stroke-width="9"/><path d="M1215.9 677.4Q1236.2 721.1 1284.0 727.2" stroke="#0CF052" stroke-width="6.6"/>
<path d="M1005.7 708.3Q1053.0 704.1 1071.5 747.8" stroke="#03952b" stroke-width="9"/><path d="M1005.7 708.3Q1053.0 704.1 1071.5 747.8" stroke="#0CF052" stroke-width="6.6"/>
<path d="M1226.4 660.1Q1254.4 687.9 1290.6 671.9" stroke="#03952b" stroke-width="9"/><path d="M1226.4 660.1Q1254.4 687.9 1290.6 671.9" stroke="#0CF052" stroke-width="6.6"/>
<path d="M989.2 712.2Q1027.3 750.3 1021.8 804.0" stroke="#03952b" stroke-width="9"/><path d="M989.2 712.2Q1027.3 750.3 1021.8 804.0" stroke="#0CF052" stroke-width="6.6"/>
<path d="M1158.5 626.2Q1190.8 648.8 1181.8 687.2" stroke="#03952b" stroke-width="9"/><path d="M1158.5 626.2Q1190.8 648.8 1181.8 687.2" stroke="#0CF052" stroke-width="6.6"/>
<path d="M973.1 780.4Q997.1 814.8 1034.4 795.4" stroke="#03952b" stroke-width="9"/><path d="M973.1 780.4Q997.1 814.8 1034.4 795.4" stroke="#0CF052" stroke-width="6.6"/>
<path d="M1285.4 607.5Q1326.4 627.6 1340.1 671.1" stroke="#03952b" stroke-width="9"/><path d="M1285.4 607.5Q1326.4 627.6 1340.1 671.1" stroke="#0CF052" stroke-width="6.6"/>
<path d="M966.9 771.0Q1018.7 762.8 1067.4 782.4" stroke="#03952b" stroke-width="9"/><path d="M966.9 771.0Q1018.7 762.8 1067.4 782.4" stroke="#0CF052" stroke-width="6.6"/>
<path d="M1164.8 678.5Q1198.6 683.7 1229.7 697.9" stroke="#03952b" stroke-width="9"/><path d="M1164.8 678.5Q1198.6 683.7 1229.7 697.9" stroke="#0CF052" stroke-width="6.6"/>
<path d="M1117.7 663.7Q1062.7 671.6 1034.3 719.4" stroke="#03952b" stroke-width="9"/><path d="M1117.7 663.7Q1062.7 671.6 1034.3 719.4" stroke="#0CF052" stroke-width="6.6"/>
<path d="M1132.1 658.5Q1108.7 705.1 1113.1 757.1" stroke="#03952b" stroke-width="9"/><path d="M1132.1 658.5Q1108.7 705.1 1113.1 757.1" stroke="#0CF052" stroke-width="6.6"/>
<path d="M1073.7 644.8Q1047.9 666.2 1029.5 694.1" stroke="#03952b" stroke-width="9"/><path d="M1073.7 644.8Q1047.9 666.2 1029.5 694.1" stroke="#0CF052" stroke-width="6.6"/>
<path d="M1117.0 685.0Q1106.0 742.1 1052.6 765.0" stroke="#03952b" stroke-width="9"/><path d="M1117.0 685.0Q1106.0 742.1 1052.6 765.0" stroke="#0CF052" stroke-width="6.6"/>
<path d="M1236.3 791.4Q1293.4 781.8 1342.6 812.2" stroke="#03952b" stroke-width="9"/><path d="M1236.3 791.4Q1293.4 781.8 1342.6 812.2" stroke="#0CF052" stroke-width="6.6"/>
<path d="M1221.5 703.9Q1206.0 748.4 1183.3 789.7" stroke="#03952b" stroke-width="9"/><path d="M1221.5 703.9Q1206.0 748.4 1183.3 789.7" stroke="#0CF052" stroke-width="6.6"/>
<path d="M1336.4 613.2Q1309.4 653.7 1261.5 662.2" stroke="#03952b" stroke-width="9"/><path d="M1336.4 613.2Q1309.4 653.7 1261.5 662.2" stroke="#0CF052" stroke-width="6.6"/>
<path d="M1150.5 579.0Q1117.4 621.7 1137.6 671.9" stroke="#03952b" stroke-width="9"/><path d="M1150.5 579.0Q1117.4 621.7 1137.6 671.9" stroke="#0CF052" stroke-width="6.6"/>
<path d="M1119.8 727.2Q1088.9 762.4 1055.2 794.8" stroke="#03952b" stroke-width="9"/><path d="M1119.8 727.2Q1088.9 762.4 1055.2 794.8" stroke="#0CF052" stroke-width="6.6"/>
<path d="M1323.5 659.3Q1271.7 674.4 1233.9 712.8" stroke="#03952b" stroke-width="9"/><path d="M1323.5 659.3Q1271.7 674.4 1233.9 712.8" stroke="#0CF052" stroke-width="6.6"/>
<path d="M1005.3 778.4Q1046.9 780.1 1085.0 797.2" stroke="#03952b" stroke-width="9"/><path d="M1005.3 778.4Q1046.9 780.1 1085.0 797.2" stroke="#0CF052" stroke-width="6.6"/>
<path d="M1379.0 615.0Q1331.9 624.5 1284.3 618.5" stroke="#03952b" stroke-width="9"/><path d="M1379.0 615.0Q1331.9 624.5 1284.3 618.5" stroke="#0CF052" stroke-width="6.6"/>
<path d="M1202.0 803.7Q1234.8 815.9 1269.7 819.7" stroke="#03952b" stroke-width="9"/><path d="M1202.0 803.7Q1234.8 815.9 1269.7 819.7" stroke="#0CF052" stroke-width="6.6"/>
<path d="M1051.9 753.3Q1007.8 739.7 983.4 778.9" stroke="#03952b" stroke-width="9"/><path d="M1051.9 753.3Q1007.8 739.7 983.4 778.9" stroke="#0CF052" stroke-width="6.6"/>
<path d="M1148.7 678.2Q1155.7 716.0 1169.5 751.9" stroke="#03952b" stroke-width="9"/><path d="M1148.7 678.2Q1155.7 716.0 1169.5 751.9" stroke="#0CF052" stroke-width="6.6"/>
<path d="M1138.5 701.1Q1110.7 704.2 1082.7 705.0" stroke="#03952b" stroke-width="9"/><path d="M1138.5 701.1Q1110.7 704.2 1082.7 705.0" stroke="#0CF052" stroke-width="6.6"/>
<path d="M1259.4 687.7Q1293.1 717.4 1337.9 715.7" stroke="#03952b" stroke-width="9"/><path d="M1259.4 687.7Q1293.1 717.4 1337.9 715.7" stroke="#0CF052" stroke-width="6.6"/>
<path d="M1228.0 771.2Q1257.9 780.2 1287.6 770.6" stroke="#03952b" stroke-width="9"/><path d="M1228.0 771.2Q1257.9 780.2 1287.6 770.6" stroke="#0CF052" stroke-width="6.6"/>
<path d="M1008.2 731.1Q1033.4 750.1 1041.0 780.7" stroke="#03952b" stroke-width="9"/><path d="M1008.2 731.1Q1033.4 750.1 1041.0 780.7" stroke="#0CF052" stroke-width="6.6"/>
<path d="M1137.1 793.4Q1176.7 802.0 1210.0 778.9" stroke="#03952b" stroke-width="9"/><path d="M1137.1 793.4Q1176.7 802.0 1210.0 778.9" stroke="#0CF052" stroke-width="6.6"/>
<path d="M970.3 691.5Q1012.5 713.9 1059.2 703.2" stroke="#03952b" stroke-width="9"/><path d="M970.3 691.5Q1012.5 713.9 1059.2 703.2" stroke="#0CF052" stroke-width="6.6"/>
<path d="M1072.3 805.6Q1118.6 834.1 1172.9 832.0" stroke="#03952b" stroke-width="9"/><path d="M1072.3 805.6Q1118.6 834.1 1172.9 832.0" stroke="#0CF052" stroke-width="6.6"/>
<path d="M1073.7 767.1Q1124.3 753.0 1164.0 787.5" stroke="#03952b" stroke-width="9"/><path d="M1073.7 767.1Q1124.3 753.0 1164.0 787.5" stroke="#0CF052" stroke-width="6.6"/>
<path d="M1152.8 686.3Q1171.9 737.2 1157.0 789.6" stroke="#03952b" stroke-width="9"/><path d="M1152.8 686.3Q1171.9 737.2 1157.0 789.6" stroke="#0CF052" stroke-width="6.6"/>
<path d="M1058.2 666.4Q1075.2 702.4 1103.5 730.3" stroke="#03952b" stroke-width="9"/><path d="M1058.2 666.4Q1075.2 702.4 1103.5 730.3" stroke="#0CF052" stroke-width="6.6"/>
<path d="M1051.3 615.4Q1038.2 667.9 1026.9 721.0" stroke="#03952b" stroke-width="9"/><path d="M1051.3 615.4Q1038.2 667.9 1026.9 721.0" stroke="#0CF052" stroke-width="6.6"/>
<path d="M1094.3 765.5Q1142.1 782.2 1192.4 788.3" stroke="#03952b" stroke-width="9"/><path d="M1094.3 765.5Q1142.1 782.2 1192.4 788.3" stroke="#0CF052" stroke-width="6.6"/>
<path d="M1257.1 657.0Q1295.2 660.5 1330.9 674.2" stroke="#03952b" stroke-width="9"/><path d="M1257.1 657.0Q1295.2 660.5 1330.9 674.2" stroke="#0CF052" stroke-width="6.6"/>
<path d="M978.5 669.9Q1019.9 687.4 1056.9 712.9" stroke="#03952b" stroke-width="9"/><path d="M978.5 669.9Q1019.9 687.4 1056.9 712.9" stroke="#0CF052" stroke-width="6.6"/>
<path d="M1093.4 645.3Q1042.3 655.8 990.6 649.0" stroke="#03952b" stroke-width="9"/><path d="M1093.4 645.3Q1042.3 655.8 990.6 649.0" stroke="#0CF052" stroke-width="6.6"/>
<path d="M1018.7 799.2Q1058.8 809.8 1089.5 782.0" stroke="#03952b" stroke-width="9"/><path d="M1018.7 799.2Q1058.8 809.8 1089.5 782.0" stroke="#0CF052" stroke-width="6.6"/>
<path d="M1044.2 778.3Q1072.8 806.2 1101.2 778.2" stroke="#03952b" stroke-width="9"/><path d="M1044.2 778.3Q1072.8 806.2 1101.2 778.2" stroke="#0CF052" stroke-width="6.6"/>
<path d="M1070.1 792.9Q1122.1 805.0 1175.5 805.7" stroke="#03952b" stroke-width="9"/><path d="M1070.1 792.9Q1122.1 805.0 1175.5 805.7" stroke="#0CF052" stroke-width="6.6"/>
<path d="M1221.1 797.0Q1256.7 803.0 1291.2 813.7" stroke="#03952b" stroke-width="9"/><path d="M1221.1 797.0Q1256.7 803.0 1291.2 813.7" stroke="#0CF052" stroke-width="6.6"/>
<path d="M1076.5 688.5Q1036.8 702.0 997.6 717.0" stroke="#03952b" stroke-width="9"/><path d="M1076.5 688.5Q1036.8 702.0 997.6 717.0" stroke="#0CF052" stroke-width="6.6"/>
<path d="M1226.8 818.6Q1272.7 830.8 1307.4 798.5" stroke="#03952b" stroke-width="9"/><path d="M1226.8 818.6Q1272.7 830.8 1307.4 798.5" stroke="#0CF052" stroke-width="6.6"/>
<path d="M1137.7 716.6Q1133.4 752.0 1155.5 779.9" stroke="#03952b" stroke-width="9"/><path d="M1137.7 716.6Q1133.4 752.0 1155.5 779.9" stroke="#0CF052" stroke-width="6.6"/>
<path d="M1271.8 729.8Q1247.0 761.8 1211.3 742.5" stroke="#03952b" stroke-width="9"/><path d="M1271.8 729.8Q1247.0 761.8 1211.3 742.5" stroke="#0CF052" stroke-width="6.6"/>
<path d="M1167.6 624.5Q1168.1 657.8 1197.7 673.0" stroke="#03952b" stroke-width="9"/><path d="M1167.6 624.5Q1168.1 657.8 1197.7 673.0" stroke="#0CF052" stroke-width="6.6"/>
<path d="M1165.2 678.6Q1201.1 724.6 1191.4 782.0" stroke="#03952b" stroke-width="9"/><path d="M1165.2 678.6Q1201.1 724.6 1191.4 782.0" stroke="#0CF052" stroke-width="6.6"/>
<path d="M1021.8 799.9Q1048.5 779.6 1082.0 781.7" stroke="#03952b" stroke-width="9"/><path d="M1021.8 799.9Q1048.5 779.6 1082.0 781.7" stroke="#0CF052" stroke-width="6.6"/>
<path d="M1176.3 621.9Q1155.3 662.0 1157.8 707.3" stroke="#03952b" stroke-width="9"/><path d="M1176.3 621.9Q1155.3 662.0 1157.8 707.3" stroke="#0CF052" stroke-width="6.6"/>
<path d="M1115.2 834.2Q1162.8 808.2 1217.0 805.9" stroke="#03952b" stroke-width="9"/><path d="M1115.2 834.2Q1162.8 808.2 1217.0 805.9" stroke="#0CF052" stroke-width="6.6"/>
<path d="M1206.5 719.4Q1243.2 740.9 1254.3 782.0" stroke="#03952b" stroke-width="9"/><path d="M1206.5 719.4Q1243.2 740.9 1254.3 782.0" stroke="#0CF052" stroke-width="6.6"/>
<path d="M1298.9 727.2Q1294.8 764.5 1313.6 797.0" stroke="#03952b" stroke-width="9"/><path d="M1298.9 727.2Q1294.8 764.5 1313.6 797.0" stroke="#0CF052" stroke-width="6.6"/>
<path d="M1106.6 787.1Q1161.4 791.9 1216.4 789.0" stroke="#03952b" stroke-width="9"/><path d="M1106.6 787.1Q1161.4 791.9 1216.4 789.0" stroke="#0CF052" stroke-width="6.6"/>
<path d="M1212.2 688.1Q1227.4 725.5 1238.3 764.4" stroke="#03952b" stroke-width="9"/><path d="M1212.2 688.1Q1227.4 725.5 1238.3 764.4" stroke="#0CF052" stroke-width="6.6"/>
<path d="M1069.9 721.0Q1103.5 755.1 1144.4 730.1" stroke="#03952b" stroke-width="9"/><path d="M1069.9 721.0Q1103.5 755.1 1144.4 730.1" stroke="#0CF052" stroke-width="6.6"/>
<path d="M1171.5 635.8Q1146.6 652.7 1118.2 663.0" stroke="#03952b" stroke-width="9"/><path d="M1171.5 635.8Q1146.6 652.7 1118.2 663.0" stroke="#0CF052" stroke-width="6.6"/>
<path d="M990.2 576.4Q1032.0 610.1 1059.2 656.4" stroke="#03952b" stroke-width="9"/><path d="M990.2 576.4Q1032.0 610.1 1059.2 656.4" stroke="#0CF052" stroke-width="6.6"/>
<path d="M1120.4 797.1Q1151.4 793.6 1181.6 801.8" stroke="#03952b" stroke-width="9"/><path d="M1120.4 797.1Q1151.4 793.6 1181.6 801.8" stroke="#0CF052" stroke-width="6.6"/>
<path d="M1002.8 652.9Q1029.4 683.9 1013.9 721.6" stroke="#03952b" stroke-width="9"/><path d="M1002.8 652.9Q1029.4 683.9 1013.9 721.6" stroke="#0CF052" stroke-width="6.6"/>
<path d="M1308.1 608.7Q1278.8 640.5 1239.4 658.5" stroke="#03952b" stroke-width="9"/><path d="M1308.1 608.7Q1278.8 640.5 1239.4 658.5" stroke="#0CF052" stroke-width="6.6"/>
<path d="M1066.6 659.6Q1128.5 664.2 1158.6 718.3" stroke="#03952b" stroke-width="9"/><path d="M1066.6 659.6Q1128.5 664.2 1158.6 718.3" stroke="#0CF052" stroke-width="6.6"/>
<path d="M1076.5 610.9Q1072.1 651.2 1037.1 671.5" stroke="#03952b" stroke-width="9"/><path d="M1076.5 610.9Q1072.1 651.2 1037.1 671.5" stroke="#0CF052" stroke-width="6.6"/>
<path d="M1241.6 657.3Q1287.6 682.8 1334.4 706.6" stroke="#03952b" stroke-width="9"/><path d="M1241.6 657.3Q1287.6 682.8 1334.4 706.6" stroke="#0CF052" stroke-width="6.6"/>
<path d="M1231.6 695.3Q1273.6 692.0 1302.2 722.8" stroke="#03952b" stroke-width="9"/><path d="M1231.6 695.3Q1273.6 692.0 1302.2 722.8" stroke="#0CF052" stroke-width="6.6"/>
<path d="M994.8 638.2Q1020.0 669.7 1058.3 682.4" stroke="#03952b" stroke-width="9"/><path d="M994.8 638.2Q1020.0 669.7 1058.3 682.4" stroke="#0CF052" stroke-width="6.6"/>
<path d="M1113.0 602.9Q1081.5 646.7 1028.3 638.0" stroke="#03952b" stroke-width="9"/><path d="M1113.0 602.9Q1081.5 646.7 1028.3 638.0" stroke="#0CF052" stroke-width="6.6"/>
<path d="M1015.9 817.9Q1052.0 784.6 1099.1 798.2" stroke="#03952b" stroke-width="9"/><path d="M1015.9 817.9Q1052.0 784.6 1099.1 798.2" stroke="#0CF052" stroke-width="6.6"/>
<path d="M1036.0 832.0Q1074.9 849.1 1109.8 824.7" stroke="#03952b" stroke-width="9"/><path d="M1036.0 832.0Q1074.9 849.1 1109.8 824.7" stroke="#0CF052" stroke-width="6.6"/>
<path d="M1277.8 782.3Q1301.3 746.0 1340.8 763.3" stroke="#03952b" stroke-width="9"/><path d="M1277.8 782.3Q1301.3 746.0 1340.8 763.3" stroke="#0CF052" stroke-width="6.6"/>
<path d="M1312.2 658.4Q1289.6 693.4 1317.3 724.5" stroke="#03952b" stroke-width="9"/><path d="M1312.2 658.4Q1289.6 693.4 1317.3 724.5" stroke="#0CF052" stroke-width="6.6"/>
<path d="M1131.1 682.7Q1094.8 694.7 1057.9 684.4" stroke="#03952b" stroke-width="9"/><path d="M1131.1 682.7Q1094.8 694.7 1057.9 684.4" stroke="#0CF052" stroke-width="6.6"/>
<path d="M1171.5 744.3Q1171.8 774.7 1194.0 795.5" stroke="#03952b" stroke-width="9"/><path d="M1171.5 744.3Q1171.8 774.7 1194.0 795.5" stroke="#0CF052" stroke-width="6.6"/>
<path d="M1024.0 811.1Q1052.3 827.3 1084.3 820.5" stroke="#03952b" stroke-width="9"/><path d="M1024.0 811.1Q1052.3 827.3 1084.3 820.5" stroke="#0CF052" stroke-width="6.6"/>
<path d="M1110.2 589.7Q1155.9 616.3 1207.4 628.0" stroke="#03952b" stroke-width="9"/><path d="M1110.2 589.7Q1155.9 616.3 1207.4 628.0" stroke="#0CF052" stroke-width="6.6"/>
<path d="M1063.8 611.7Q1021.1 642.0 985.1 680.1" stroke="#03952b" stroke-width="9"/><path d="M1063.8 611.7Q1021.1 642.0 985.1 680.1" stroke="#0CF052" stroke-width="6.6"/>
<path d="M1191.3 781.4Q1229.7 781.3 1263.2 800.0" stroke="#03952b" stroke-width="9"/><path d="M1191.3 781.4Q1229.7 781.3 1263.2 800.0" stroke="#0CF052" stroke-width="6.6"/>
<path d="M1071.5 571.8Q1096.2 615.6 1098.6 665.8" stroke="#03952b" stroke-width="9"/><path d="M1071.5 571.8Q1096.2 615.6 1098.6 665.8" stroke="#0CF052" stroke-width="6.6"/>
<path d="M1036.3 691.9Q1021.5 733.3 1059.2 756.2" stroke="#03952b" stroke-width="9"/><path d="M1036.3 691.9Q1021.5 733.3 1059.2 756.2" stroke="#0CF052" stroke-width="6.6"/>
<path d="M1286.1 730.2Q1244.5 755.5 1201.2 777.5" stroke="#03952b" stroke-width="9"/><path d="M1286.1 730.2Q1244.5 755.5 1201.2 777.5" stroke="#0CF052" stroke-width="6.6"/>
<path d="M1071.7 822.7Q1102.7 832.7 1129.0 813.4" stroke="#03952b" stroke-width="9"/><path d="M1071.7 822.7Q1102.7 832.7 1129.0 813.4" stroke="#0CF052" stroke-width="6.6"/>
<path d="M1350.8 670.0Q1324.0 719.2 1273.8 744.2" stroke="#03952b" stroke-width="9"/><path d="M1350.8 670.0Q1324.0 719.2 1273.8 744.2" stroke="#0CF052" stroke-width="6.6"/>
<path d="M1213.9 601.2Q1199.8 627.9 1184.0 653.6" stroke="#03952b" stroke-width="9"/><path d="M1213.9 601.2Q1199.8 627.9 1184.0 653.6" stroke="#0CF052" stroke-width="6.6"/>
<path d="M1111.7 587.9Q1113.9 622.6 1081.0 633.8" stroke="#03952b" stroke-width="9"/><path d="M1111.7 587.9Q1113.9 622.6 1081.0 633.8" stroke="#0CF052" stroke-width="6.6"/>
<path d="M1116.1 811.1Q1170.0 808.0 1220.8 826.4" stroke="#03952b" stroke-width="9"/><path d="M1116.1 811.1Q1170.0 808.0 1220.8 826.4" stroke="#0CF052" stroke-width="6.6"/>
<path d="M1290.9 638.3Q1343.5 647.3 1355.4 699.3" stroke="#03952b" stroke-width="9"/><path d="M1290.9 638.3Q1343.5 647.3 1355.4 699.3" stroke="#0CF052" stroke-width="6.6"/>
<path d="M1080.8 718.4Q1043.0 725.4 1048.9 763.4" stroke="#03952b" stroke-width="9"/><path d="M1080.8 718.4Q1043.0 725.4 1048.9 763.4" stroke="#0CF052" stroke-width="6.6"/>
<path d="M1176.0 664.6Q1187.3 702.7 1170.9 738.8" stroke="#03952b" stroke-width="9"/><path d="M1176.0 664.6Q1187.3 702.7 1170.9 738.8" stroke="#0CF052" stroke-width="6.6"/>
<path d="M1159.5 835.7Q1210.3 832.0 1259.3 818.5" stroke="#03952b" stroke-width="9"/><path d="M1159.5 835.7Q1210.3 832.0 1259.3 818.5" stroke="#0CF052" stroke-width="6.6"/>
<path d="M1069.9 599.3Q1071.3 646.0 1083.5 691.0" stroke="#03952b" stroke-width="9"/><path d="M1069.9 599.3Q1071.3 646.0 1083.5 691.0" stroke="#0CF052" stroke-width="6.6"/>
<path d="M989.8 661.0Q1030.2 694.8 1075.0 722.4" stroke="#03952b" stroke-width="9"/><path d="M989.8 661.0Q1030.2 694.8 1075.0 722.4" stroke="#0CF052" stroke-width="6.6"/>
<path d="M1176.3 722.2Q1210.9 724.8 1241.7 741.0" stroke="#03952b" stroke-width="9"/><path d="M1176.3 722.2Q1210.9 724.8 1241.7 741.0" stroke="#0CF052" stroke-width="6.6"/>
<path d="M1063.1 599.3Q1029.9 620.2 1033.3 659.3" stroke="#03952b" stroke-width="9"/><path d="M1063.1 599.3Q1029.9 620.2 1033.3 659.3" stroke="#0CF052" stroke-width="6.6"/>
<path d="M1266.0 700.3Q1318.2 702.7 1353.7 741.1" stroke="#03952b" stroke-width="9"/><path d="M1266.0 700.3Q1318.2 702.7 1353.7 741.1" stroke="#0CF052" stroke-width="6.6"/>
<path d="M1144.2 611.9Q1110.5 647.2 1115.2 695.8" stroke="#03952b" stroke-width="9"/><path d="M1144.2 611.9Q1110.5 647.2 1115.2 695.8" stroke="#0CF052" stroke-width="6.6"/>
<path d="M1327.6 716.0Q1321.1 749.2 1307.6 780.2" stroke="#03952b" stroke-width="9"/><path d="M1327.6 716.0Q1321.1 749.2 1307.6 780.2" stroke="#0CF052" stroke-width="6.6"/>
<path d="M1293.6 620.5Q1308.6 652.1 1333.1 677.0" stroke="#03952b" stroke-width="9"/><path d="M1293.6 620.5Q1308.6 652.1 1333.1 677.0" stroke="#0CF052" stroke-width="6.6"/>
<path d="M1320.5 666.1Q1298.1 711.1 1293.0 761.2" stroke="#03952b" stroke-width="9"/><path d="M1320.5 666.1Q1298.1 711.1 1293.0 761.2" stroke="#0CF052" stroke-width="6.6"/>
<path d="M1290.0 724.5Q1262.9 760.7 1242.6 801.2" stroke="#03952b" stroke-width="9"/><path d="M1290.0 724.5Q1262.9 760.7 1242.6 801.2" stroke="#0CF052" stroke-width="6.6"/>
<path d="M1342.0 611.7Q1293.1 649.8 1234.1 630.5" stroke="#03952b" stroke-width="9"/><path d="M1342.0 611.7Q1293.1 649.8 1234.1 630.5" stroke="#0CF052" stroke-width="6.6"/>
<path d="M1070.7 625.0Q1103.6 606.0 1134.7 627.8" stroke="#03952b" stroke-width="9"/><path d="M1070.7 625.0Q1103.6 606.0 1134.7 627.8" stroke="#0CF052" stroke-width="6.6"/>
<path d="M1240.3 642.5Q1198.0 650.2 1180.9 689.6" stroke="#03952b" stroke-width="9"/><path d="M1240.3 642.5Q1198.0 650.2 1180.9 689.6" stroke="#0CF052" stroke-width="6.6"/>
<path d="M989.8 783.7Q1035.0 783.4 1076.2 802.3" stroke="#03952b" stroke-width="9"/><path d="M989.8 783.7Q1035.0 783.4 1076.2 802.3" stroke="#0CF052" stroke-width="6.6"/>
<path d="M1138.1 586.4Q1168.5 617.2 1207.9 635.2" stroke="#03952b" stroke-width="9"/><path d="M1138.1 586.4Q1168.5 617.2 1207.9 635.2" stroke="#0CF052" stroke-width="6.6"/>
<path d="M1159.5 640.5Q1114.1 658.5 1098.6 704.8" stroke="#03952b" stroke-width="9"/><path d="M1159.5 640.5Q1114.1 658.5 1098.6 704.8" stroke="#0CF052" stroke-width="6.6"/>
<path d="M1286.4 800.1Q1317.2 810.8 1349.4 816.0" stroke="#03952b" stroke-width="9"/><path d="M1286.4 800.1Q1317.2 810.8 1349.4 816.0" stroke="#0CF052" stroke-width="6.6"/>
<path d="M976.6 595.0Q1022.8 611.7 1053.3 650.1" stroke="#03952b" stroke-width="9"/><path d="M976.6 595.0Q1022.8 611.7 1053.3 650.1" stroke="#0CF052" stroke-width="6.6"/>
<path d="M1354.3 724.7Q1320.1 735.6 1294.5 760.9" stroke="#03952b" stroke-width="9"/><path d="M1354.3 724.7Q1320.1 735.6 1294.5 760.9" stroke="#0CF052" stroke-width="6.6"/>
<path d="M1230.1 710.6Q1259.9 727.4 1264.2 761.4" stroke="#03952b" stroke-width="9"/><path d="M1230.1 710.6Q1259.9 727.4 1264.2 761.4" stroke="#0CF052" stroke-width="6.6"/>
<path d="M1183.1 770.3Q1235.3 792.0 1289.8 777.0" stroke="#03952b" stroke-width="9"/><path d="M1183.1 770.3Q1235.3 792.0 1289.8 777.0" stroke="#0CF052" stroke-width="6.6"/>
<path d="M1099.8 603.2Q1142.4 639.7 1136.8 695.5" stroke="#03952b" stroke-width="9"/><path d="M1099.8 603.2Q1142.4 639.7 1136.8 695.5" stroke="#0CF052" stroke-width="6.6"/>
<path d="M1270.0 588.7Q1293.0 638.4 1305.3 691.7" stroke="#03952b" stroke-width="9"/><path d="M1270.0 588.7Q1293.0 638.4 1305.3 691.7" stroke="#0CF052" stroke-width="6.6"/>
<path d="M1328.8 735.4Q1268.5 728.8 1225.8 771.9" stroke="#03952b" stroke-width="9"/><path d="M1328.8 735.4Q1268.5 728.8 1225.8 771.9" stroke="#0CF052" stroke-width="6.6"/>
<path d="M1036.6 713.7Q1091.4 718.2 1143.9 734.8" stroke="#03952b" stroke-width="9"/><path d="M1036.6 713.7Q1091.4 718.2 1143.9 734.8" stroke="#0CF052" stroke-width="6.6"/>
<path d="M1237.4 646.5Q1211.8 673.0 1217.3 709.4" stroke="#03952b" stroke-width="9"/><path d="M1237.4 646.5Q1211.8 673.0 1217.3 709.4" stroke="#0CF052" stroke-width="6.6"/>
</g><g fill="none" stroke="#021805" stroke-linecap="round" stroke-width="3.4" clip-path="url(#gb)">
<path d="M1005.8 614.2L1008.3 615.7"/>
<path d="M1036.3 617.1L1038.6 618.4"/>
<path d="M1059.1 620.2L1055.6 621.0"/>
<path d="M1074.3 615.2L1078.1 619.8"/>
<path d="M1089.2 614.3L1087.9 615.0"/>
<path d="M1115.8 612.7L1116.0 616.6"/>
<path d="M1124.8 610.1L1123.8 611.4"/>
<path d="M1141.8 607.4L1142.3 610.5"/>
<path d="M1171.7 606.9L1171.4 607.4"/>
<path d="M1191.6 617.6L1192.6 618.0"/>
<path d="M1200.2 618.4L1197.6 619.8"/>
<path d="M1218.8 608.7L1223.6 609.1"/>
<path d="M1245.9 620.4L1245.6 625.1"/>
<path d="M1262.0 609.7L1264.9 611.4"/>
<path d="M1291.8 619.2L1294.3 623.2"/>
<path d="M1308.3 607.1L1306.7 607.2"/>
<path d="M1327.2 611.0L1325.5 611.1"/>
<path d="M1013.5 629.6L1016.7 630.3"/>
<path d="M1039.4 625.8L1039.9 627.4"/>
<path d="M1050.5 627.4L1049.0 628.5"/>
<path d="M1068.7 626.0L1064.2 627.3"/>
<path d="M1100.0 623.6L1099.7 625.5"/>
<path d="M1108.4 632.6L1112.5 633.2"/>
<path d="M1136.2 624.0L1136.9 625.0"/>
<path d="M1157.0 625.8L1157.8 627.1"/>
<path d="M1167.0 632.7L1167.5 633.8"/>
<path d="M1194.6 630.8L1194.9 631.7"/>
<path d="M1200.0 627.3L1199.8 628.5"/>
<path d="M1230.5 630.2L1232.9 635.5"/>
<path d="M1253.6 624.5L1254.7 630.2"/>
<path d="M1259.0 628.4L1254.9 632.7"/>
<path d="M1275.4 630.5L1281.2 631.9"/>
<path d="M1298.9 630.7L1297.4 633.7"/>
<path d="M1324.0 624.6L1322.4 627.3"/>
<path d="M1012.4 641.8L1012.0 642.3"/>
<path d="M1035.2 645.2L1032.2 645.6"/>
<path d="M1053.1 652.8L1051.3 653.3"/>
<path d="M1064.6 645.9L1065.9 647.3"/>
<path d="M1092.9 651.2L1092.0 657.1"/>
<path d="M1108.4 649.1L1108.5 649.9"/>
<path d="M1123.1 639.9L1122.8 645.1"/>
<path d="M1143.5 642.4L1140.8 646.4"/>
<path d="M1170.1 641.8L1164.3 642.8"/>
<path d="M1192.4 647.3L1189.7 648.5"/>
<path d="M1199.8 644.0L1202.6 645.1"/>
<path d="M1219.6 645.1L1218.4 647.2"/>
<path d="M1247.9 653.2L1250.3 655.6"/>
<path d="M1268.8 643.3L1270.7 646.1"/>
<path d="M1293.0 643.1L1288.9 646.3"/>
<path d="M1303.9 644.0L1303.0 646.7"/>
<path d="M1330.1 641.1L1333.9 643.5"/>
<path d="M1017.6 659.8L1022.3 660.5"/>
<path d="M1039.6 658.8L1039.2 664.2"/>
<path d="M1055.6 656.5L1053.1 656.5"/>
<path d="M1068.1 662.6L1069.0 664.7"/>
<path d="M1083.6 655.0L1086.1 659.4"/>
<path d="M1104.1 658.1L1108.1 661.7"/>
<path d="M1136.9 666.3L1137.4 667.2"/>
<path d="M1148.3 669.9L1149.6 670.2"/>
<path d="M1165.8 665.3L1164.7 666.3"/>
<path d="M1183.3 660.9L1181.3 661.0"/>
<path d="M1208.2 668.8L1213.1 669.2"/>
<path d="M1230.5 655.2L1228.1 657.5"/>
<path d="M1252.5 661.9L1249.7 665.7"/>
<path d="M1273.9 665.7L1272.9 671.2"/>
<path d="M1288.3 668.3L1291.5 669.4"/>
<path d="M1310.7 664.3L1307.4 669.1"/>
<path d="M1320.8 665.0L1322.9 666.6"/>
<path d="M1005.0 677.2L1005.3 683.2"/>
<path d="M1030.1 677.0L1028.7 678.7"/>
<path d="M1041.3 673.3L1042.5 676.9"/>
<path d="M1077.9 672.8L1074.1 675.9"/>
<path d="M1081.5 670.3L1082.6 674.2"/>
<path d="M1099.7 675.2L1104.5 677.4"/>
<path d="M1119.2 678.4L1121.4 681.9"/>
<path d="M1146.7 684.0L1141.8 684.1"/>
<path d="M1173.3 673.3L1169.0 674.1"/>
<path d="M1187.1 684.8L1189.1 685.2"/>
<path d="M1210.0 679.8L1210.6 680.3"/>
<path d="M1217.1 677.1L1222.4 678.4"/>
<path d="M1246.2 671.4L1245.5 672.2"/>
<path d="M1267.7 672.0L1266.3 675.9"/>
<path d="M1287.8 683.2L1287.8 686.4"/>
<path d="M1298.1 671.6L1298.2 674.1"/>
<path d="M1327.7 684.0L1329.0 684.1"/>
<path d="M1018.6 696.4L1019.2 696.7"/>
<path d="M1038.2 693.0L1034.5 693.2"/>
<path d="M1050.0 693.3L1050.4 695.0"/>
<path d="M1079.7 693.5L1074.0 694.6"/>
<path d="M1085.0 697.6L1080.5 698.4"/>
<path d="M1114.7 684.9L1112.4 688.8"/>
<path d="M1127.0 686.4L1129.8 691.0"/>
<path d="M1147.0 687.4L1147.6 688.1"/>
<path d="M1161.2 686.2L1159.4 689.1"/>
<path d="M1181.2 700.3L1178.4 701.0"/>
<path d="M1214.6 691.8L1214.1 693.3"/>
<path d="M1238.6 685.3L1235.8 690.4"/>
<path d="M1242.6 684.7L1243.9 689.4"/>
<path d="M1264.1 699.9L1264.7 700.9"/>
<path d="M1288.1 685.9L1288.4 687.5"/>
<path d="M1313.8 696.2L1311.3 698.3"/>
<path d="M1322.7 693.0L1327.8 694.3"/>
<path d="M1002.7 714.9L1008.1 715.6"/>
<path d="M1021.3 700.2L1024.4 705.3"/>
<path d="M1059.8 709.1L1054.9 710.7"/>
<path d="M1071.3 705.8L1071.4 706.5"/>
<path d="M1084.5 707.9L1085.6 708.1"/>
<path d="M1101.6 705.6L1106.1 709.4"/>
<path d="M1130.1 711.2L1131.3 712.3"/>
<path d="M1155.8 715.7L1159.2 717.1"/>
<path d="M1173.7 701.6L1168.4 703.7"/>
<path d="M1185.5 702.5L1190.1 702.8"/>
<path d="M1215.4 702.4L1217.2 707.4"/>
<path d="M1221.6 710.1L1220.5 711.7"/>
<path d="M1241.4 710.7L1240.9 714.8"/>
<path d="M1265.1 713.3L1263.1 715.7"/>
<path d="M1295.0 703.0L1289.4 703.5"/>
<path d="M1309.1 716.5L1304.4 720.0"/>
<path d="M1332.8 717.6L1334.0 718.0"/>
<path d="M1015.0 723.8L1017.9 724.3"/>
<path d="M1039.5 731.6L1037.0 736.2"/>
<path d="M1055.9 721.7L1057.1 722.4"/>
<path d="M1077.6 728.1L1076.9 729.6"/>
<path d="M1092.1 733.2L1094.5 733.5"/>
<path d="M1106.5 719.3L1102.4 720.8"/>
<path d="M1133.1 726.1L1134.8 728.9"/>
<path d="M1155.0 718.2L1157.3 722.4"/>
<path d="M1173.0 724.2L1172.3 724.8"/>
<path d="M1193.2 729.1L1191.9 734.0"/>
<path d="M1200.4 723.3L1203.9 726.9"/>
<path d="M1235.1 722.8L1235.6 725.3"/>
<path d="M1259.1 721.2L1254.4 721.7"/>
<path d="M1261.4 733.6L1262.3 733.9"/>
<path d="M1285.4 719.0L1282.0 719.9"/>
<path d="M1308.5 720.0L1307.2 724.9"/>
<path d="M1326.1 717.9L1329.9 722.5"/>
<path d="M1013.4 737.8L1007.9 738.4"/>
<path d="M1023.1 747.3L1025.2 752.0"/>
<path d="M1050.0 737.8L1052.1 739.0"/>
<path d="M1075.0 739.4L1079.0 741.2"/>
<path d="M1083.2 737.3L1080.7 741.6"/>
<path d="M1114.4 741.8L1112.5 746.7"/>
<path d="M1132.5 735.6L1130.5 736.4"/>
<path d="M1139.8 744.3L1139.7 744.9"/>
<path d="M1168.2 734.6L1168.9 735.8"/>
<path d="M1195.8 741.2L1197.2 741.2"/>
<path d="M1199.1 744.8L1200.9 748.2"/>
<path d="M1235.9 736.2L1234.1 736.9"/>
<path d="M1251.6 736.5L1247.4 737.7"/>
<path d="M1261.2 738.9L1259.4 742.9"/>
<path d="M1295.8 738.2L1295.4 743.4"/>
<path d="M1299.5 746.5L1299.3 747.0"/>
<path d="M1324.0 747.8L1318.8 750.4"/>
<path d="M1015.1 763.4L1013.4 767.9"/>
<path d="M1020.0 758.4L1023.6 762.0"/>
<path d="M1058.7 760.3L1059.0 762.7"/>
<path d="M1064.6 758.2L1063.2 759.2"/>
<path d="M1095.3 763.6L1098.8 766.0"/>
<path d="M1107.6 755.2L1106.4 759.6"/>
<path d="M1125.4 750.8L1124.6 751.4"/>
<path d="M1141.6 753.9L1140.0 754.6"/>
<path d="M1177.9 762.4L1176.2 765.1"/>
<path d="M1195.4 750.7L1193.4 751.7"/>
<path d="M1205.2 750.2L1200.4 750.2"/>
<path d="M1216.3 761.4L1220.0 765.6"/>
<path d="M1248.8 757.7L1249.4 761.2"/>
<path d="M1261.5 749.6L1260.9 753.3"/>
<path d="M1291.8 756.7L1293.2 759.2"/>
<path d="M1298.8 753.5L1301.6 757.9"/>
<path d="M1333.7 752.8L1333.6 753.7"/>
<path d="M1015.3 776.4L1025.8 776.0"/>
<path d="M1021.3 769.9L1027.4 770.6"/>
<path d="M1045.9 781.5L1050.6 781.6"/>
<path d="M1062.7 766.5L1060.9 769.7"/>
<path d="M1094.7 780.7L1100.4 779.3"/>
<path d="M1097.8 781.9L1107.7 781.1"/>
<path d="M1122.2 772.8L1130.2 771.8"/>
<path d="M1153.3 781.7L1162.2 781.8"/>
<path d="M1168.3 778.5L1175.8 779.3"/>
<path d="M1185.0 777.0L1188.7 776.1"/>
<path d="M1209.1 776.2L1219.1 774.5"/>
<path d="M1218.2 780.1L1225.2 778.4"/>
<path d="M1252.6 779.4L1259.2 779.4"/>
<path d="M1276.5 768.2L1271.2 769.2"/>
<path d="M1278.1 765.9L1277.9 766.8"/>
<path d="M1292.9 775.6L1300.7 775.4"/>
<path d="M1315.5 775.7L1326.7 775.1"/>
<path d="M1015.7 785.9L1020.1 786.7"/>
<path d="M1027.5 794.8L1030.6 794.6"/>
<path d="M1042.7 791.5L1047.9 790.4"/>
<path d="M1070.6 793.9L1081.3 794.2"/>
<path d="M1093.6 798.0L1104.0 795.7"/>
<path d="M1098.1 787.5L1108.9 785.5"/>
<path d="M1121.7 790.5L1131.0 791.5"/>
<path d="M1139.9 791.9L1148.0 792.3"/>
<path d="M1171.8 789.7L1176.8 790.1"/>
<path d="M1194.4 796.7L1198.7 797.4"/>
<path d="M1209.4 794.8L1215.1 795.8"/>
<path d="M1224.0 796.1L1230.9 796.2"/>
<path d="M1236.7 796.6L1245.0 795.3"/>
<path d="M1260.1 795.3L1265.4 794.1"/>
<path d="M1280.0 786.6L1283.4 786.9"/>
<path d="M1293.8 783.6L1298.5 783.0"/>
<path d="M1328.3 796.4L1337.9 794.7"/>
<path d="M1002.3 803.6L1009.4 802.5"/>
<path d="M1024.2 800.5L1032.7 799.0"/>
<path d="M1052.3 804.2L1057.5 804.0"/>
<path d="M1067.3 812.1L1079.0 812.3"/>
<path d="M1084.5 801.2L1094.3 802.3"/>
<path d="M1100.3 807.1L1105.2 807.6"/>
<path d="M1134.9 799.4L1139.7 800.5"/>
<path d="M1145.4 810.2L1150.0 810.2"/>
<path d="M1165.0 808.1L1170.3 806.8"/>
<path d="M1190.2 802.8L1194.1 802.6"/>
<path d="M1205.3 810.0L1211.5 810.1"/>
<path d="M1218.3 800.3L1229.7 798.3"/>
<path d="M1254.7 812.7L1258.1 812.2"/>
<path d="M1255.7 804.9L1265.3 806.8"/>
<path d="M1273.7 798.8L1279.9 799.4"/>
<path d="M1296.9 803.6L1305.2 801.5"/>
<path d="M1320.7 807.6L1323.9 807.8"/>
<path d="M1003.7 826.2L1014.9 827.5"/>
<path d="M1024.6 823.7L1032.5 823.1"/>
<path d="M1053.7 828.1L1060.5 826.9"/>
<path d="M1062.0 827.4L1067.3 827.4"/>
<path d="M1086.6 823.7L1091.9 823.4"/>
<path d="M1100.9 818.6L1109.3 817.8"/>
<path d="M1129.5 825.2L1139.6 827.4"/>
<path d="M1137.4 824.4L1148.5 823.3"/>
<path d="M1166.1 821.0L1174.5 821.5"/>
<path d="M1191.9 828.6L1201.0 829.9"/>
<path d="M1205.6 821.7L1211.3 821.8"/>
<path d="M1230.6 826.8L1239.5 827.7"/>
<path d="M1240.1 814.9L1248.8 813.9"/>
<path d="M1272.1 820.9L1280.2 819.3"/>
<path d="M1279.1 815.0L1285.9 816.0"/>
<path d="M1304.8 818.4L1312.0 819.2"/>
<path d="M1319.1 824.9L1327.8 824.3"/>
</g><g fill="#052a09">
<circle cx="1017.0" cy="606.8" r="2.6"/>
<circle cx="1027.7" cy="607.4" r="2.6"/>
<circle cx="1047.1" cy="605.2" r="2.6"/>
<circle cx="1068.4" cy="610.4" r="2.6"/>
<circle cx="1078.8" cy="609.4" r="2.6"/>
<circle cx="1089.2" cy="608.1" r="2.6"/>
<circle cx="1110.3" cy="607.3" r="2.6"/>
<circle cx="1122.0" cy="607.9" r="2.6"/>
<circle cx="1130.3" cy="608.3" r="2.6"/>
<circle cx="1141.2" cy="605.7" r="2.6"/>
<circle cx="1149.4" cy="608.7" r="2.6"/>
<circle cx="1172.1" cy="607.6" r="2.6"/>
<circle cx="1184.8" cy="605.7" r="2.6"/>
<circle cx="1227.0" cy="608.3" r="2.6"/>
<circle cx="1256.6" cy="604.6" r="2.6"/>
<circle cx="1267.5" cy="605.7" r="2.6"/>
<circle cx="1292.7" cy="606.9" r="2.6"/>
<circle cx="1305.7" cy="605.7" r="2.6"/>
<circle cx="1314.5" cy="606.7" r="2.6"/>
<circle cx="1327.3" cy="606.8" r="2.6"/>
<circle cx="1002.5" cy="826.0" r="2.4"/>
<circle cx="1000.1" cy="814.3" r="2.4"/>
<circle cx="1002.4" cy="806.0" r="2.4"/>
<circle cx="1000.9" cy="793.2" r="2.4"/>
<circle cx="1001.3" cy="773.3" r="2.4"/>
<circle cx="1002.8" cy="714.0" r="2.4"/>
<circle cx="1000.7" cy="704.8" r="2.4"/>
<circle cx="1001.1" cy="686.1" r="2.4"/>
<circle cx="1002.9" cy="676.4" r="2.4"/>
<circle cx="1002.0" cy="657.4" r="2.4"/>
<circle cx="1007.7" cy="646.1" r="2.4"/>
<circle cx="1016.6" cy="618.3" r="2.4"/>
<ellipse cx="1328.0" cy="828.1" rx="5" ry="2.3"/>
<ellipse cx="1308.1" cy="825.9" rx="5" ry="2.3"/>
<ellipse cx="1286.8" cy="824.9" rx="5" ry="2.3"/>
<ellipse cx="1274.8" cy="826.6" rx="5" ry="2.3"/>
<ellipse cx="1266.1" cy="826.0" rx="5" ry="2.3"/>
<ellipse cx="1246.0" cy="827.6" rx="5" ry="2.3"/>
<ellipse cx="1193.8" cy="827.5" rx="5" ry="2.3"/>
<ellipse cx="1185.7" cy="825.5" rx="5" ry="2.3"/>
<ellipse cx="1166.9" cy="824.7" rx="5" ry="2.3"/>
<ellipse cx="1154.5" cy="826.1" rx="5" ry="2.3"/>
<ellipse cx="1141.7" cy="829.0" rx="5" ry="2.3"/>
<ellipse cx="1131.8" cy="826.8" rx="5" ry="2.3"/>
<ellipse cx="1121.2" cy="827.7" rx="5" ry="2.3"/>
<ellipse cx="1110.3" cy="827.3" rx="5" ry="2.3"/>
<ellipse cx="1088.6" cy="826.7" rx="5" ry="2.3"/>
<ellipse cx="1077.0" cy="825.7" rx="5" ry="2.3"/>
<ellipse cx="1067.5" cy="829.4" rx="5" ry="2.3"/>
<ellipse cx="1056.9" cy="827.2" rx="5" ry="2.3"/>
<ellipse cx="1048.8" cy="826.6" rx="5" ry="2.3"/>
<ellipse cx="1018.6" cy="827.6" rx="5" ry="2.3"/>
<ellipse cx="1008.2" cy="827.9" rx="5" ry="2.3"/>
</g></g>
<text class="t" x="27.49" y="34.5" textLength="273.28" lengthAdjust="spacingAndGlyphs" xml:space="preserve">Dissolving Aniline</text>
<text class="t" x="316.0" y="34.5" textLength="26.04" lengthAdjust="spacingAndGlyphs" xml:space="preserve">in</text>
<text class="t" x="28.6" y="81.9" textLength="186.71" lengthAdjust="spacingAndGlyphs" xml:space="preserve">HCl solution</text>
<text class="t" x="512.43" y="32.9" textLength="231.13" lengthAdjust="spacingAndGlyphs" xml:space="preserve">Adding to NFC</text>
<text class="t" x="512.0" y="80" textLength="175.7" lengthAdjust="spacingAndGlyphs" xml:space="preserve">suspension</text>
<text class="t" x="948.81" y="31.7" textLength="308.41" lengthAdjust="spacingAndGlyphs" xml:space="preserve">Adding APS oxidant</text>
<text class="t" x="947.6" y="80" textLength="116.62" lengthAdjust="spacingAndGlyphs" xml:space="preserve">solution</text>
<text class="t" x="4.03" y="628.8" textLength="33.21" lengthAdjust="spacingAndGlyphs" xml:space="preserve">(i)</text>
<text class="t" x="48.4" y="628.8" textLength="165.56" lengthAdjust="spacingAndGlyphs" xml:space="preserve">Absorption</text>
<text class="t" x="4.01" y="699" textLength="42.11" lengthAdjust="spacingAndGlyphs" xml:space="preserve">(ii)</text>
<text class="t" x="59.29" y="699" textLength="329.9" lengthAdjust="spacingAndGlyphs" xml:space="preserve">In situ polymerization</text>
<text class="t" x="4.01" y="771.5" textLength="51.0" lengthAdjust="spacingAndGlyphs" xml:space="preserve">(iii)</text>
<text class="t" x="68.15" y="771.5" textLength="326.76" lengthAdjust="spacingAndGlyphs" xml:space="preserve">Washing and solvent</text>
<text class="t" x="3.4" y="844.3" textLength="181.8" lengthAdjust="spacingAndGlyphs" xml:space="preserve">evaporation</text>
<text class="t" x="546.78" y="619" textLength="180.34" lengthAdjust="spacingAndGlyphs" xml:space="preserve">Aniline+HCl</text>
<text class="t" x="547.26" y="690.8" textLength="137.46" lengthAdjust="spacingAndGlyphs" xml:space="preserve">Cellulose</text>
<text class="t" x="703.15" y="690.8" textLength="59.76" lengthAdjust="spacingAndGlyphs" xml:space="preserve">fibril</text>
<text class="t" x="547.26" y="762.5" textLength="137.46" lengthAdjust="spacingAndGlyphs" xml:space="preserve">Cellulose</text>
<text class="t" x="703.15" y="762.5" textLength="59.66" lengthAdjust="spacingAndGlyphs" xml:space="preserve">fibril</text>
<text class="t" x="778.28" y="762.5" textLength="179.12" lengthAdjust="spacingAndGlyphs" xml:space="preserve">coated with</text>
<text class="t" x="546.09" y="833.4" textLength="342.58" lengthAdjust="spacingAndGlyphs" xml:space="preserve">PANi macromolecules</text>
<text class="t" x="966.68" y="883.1" textLength="330.69" lengthAdjust="spacingAndGlyphs" xml:space="preserve">NFC/PANi composite</text>
<text class="t" x="966.68" y="931" textLength="424.42" lengthAdjust="spacingAndGlyphs" xml:space="preserve">formed by vacuum filtration</text>
<text class="t" x="966.7" y="974" textLength="150.93" lengthAdjust="spacingAndGlyphs" xml:space="preserve">or casting</text>
<text class="lb" x="432.53" y="250.3" textLength="29.7" lengthAdjust="spacingAndGlyphs" xml:space="preserve">(i)</text>
<text class="lb" x="897.97" y="255.3" textLength="39.38" lengthAdjust="spacingAndGlyphs" xml:space="preserve">(ii)</text>
<text class="lb" x="1172.99" y="543.8" textLength="46.61" lengthAdjust="spacingAndGlyphs" xml:space="preserve">(iii)</text>
</svg>
</body></html>
